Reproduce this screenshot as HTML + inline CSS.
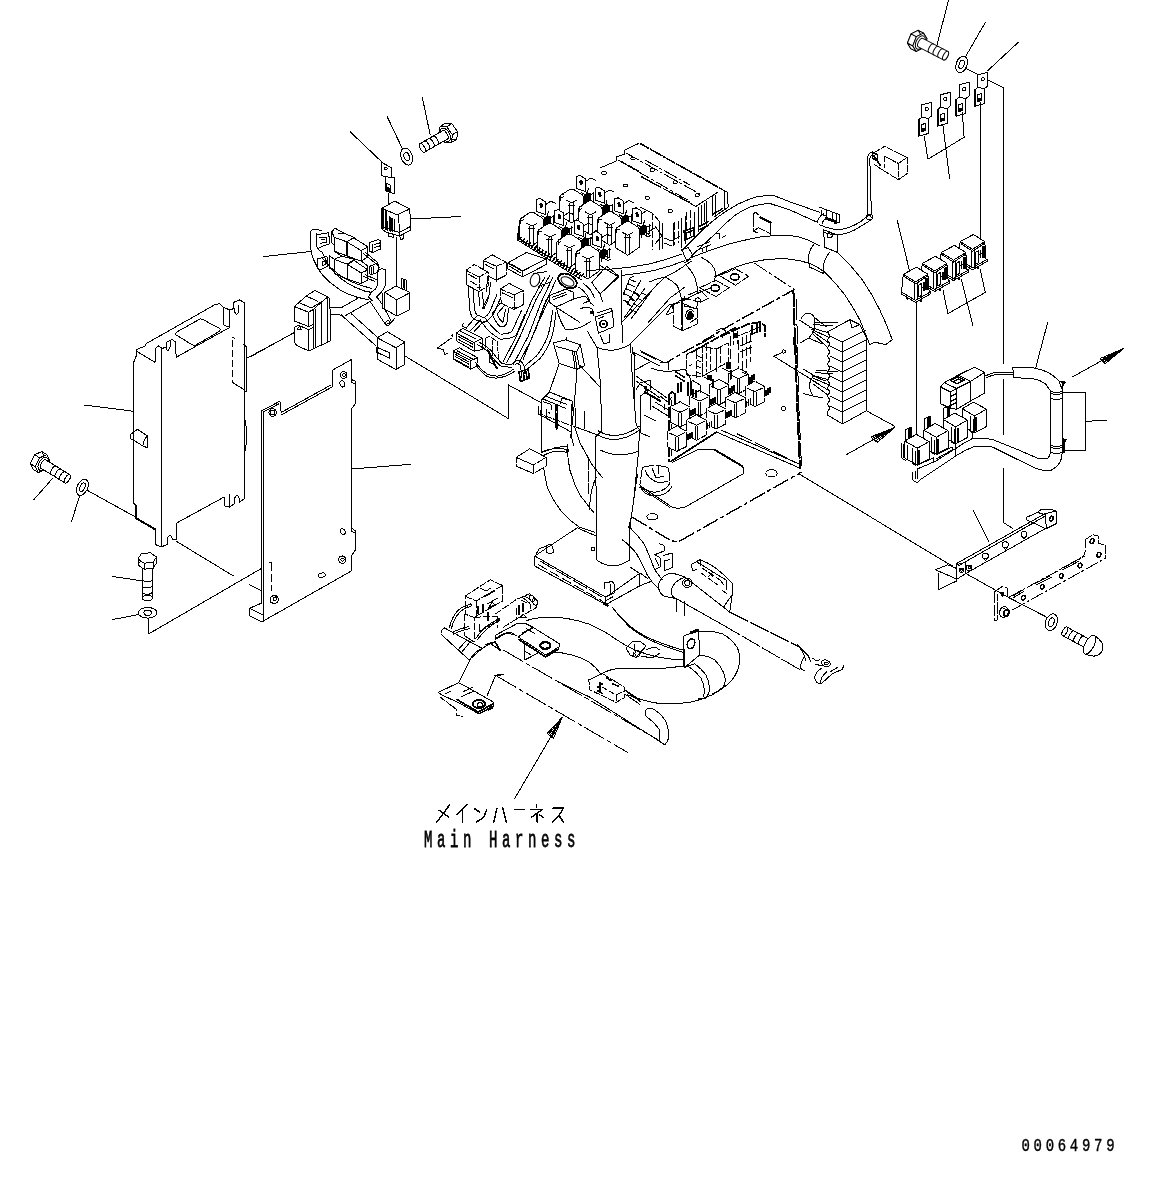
<!DOCTYPE html>
<html><head><meta charset="utf-8"><title>Diagram</title>
<style>
html,body{margin:0;padding:0;background:#fff;}
body{width:1163px;height:1182px;overflow:hidden;font-family:"Liberation Sans",sans-serif;}
svg{display:block;shape-rendering:crispEdges}
.l{fill:none;stroke:#000;stroke-width:1.0;stroke-linecap:round;stroke-linejoin:round}
.w{fill:#fff;stroke:#000;stroke-width:1.0;stroke-linecap:round;stroke-linejoin:round}
.k{fill:#000;stroke:none}
.t{fill:none;stroke:#000;stroke-width:1.5;stroke-linecap:round;stroke-linejoin:round}
</style></head><body>
<svg width="1163" height="1182" viewBox="0 0 1163 1182">
<rect x="0" y="0" width="1163" height="1182" fill="#fff"/>
<defs><filter id="gs" x="-5%" y="-20%" width="110%" height="140%"><feColorMatrix type="saturate" values="0"/></filter></defs>

<g class="l">
<!-- controller box -->
<path d="M133.7 362.3 L133.7 503.3 L136.2 505.8 L136.2 518.3 L155.4 529.5 L155.4 544.5 L161.1 547 L167.4 544.5 L167.4 538.3 Q169.9 532 172.4 539 L176.1 539.5 L176.1 523.3 L224 497.1 L224 505.8 L229.8 507.1 L229.8 494 M234.8 503.3 L234.8 498 Q237 493 239 498 L239.8 502.1 L244.7 498.3 L244.7 302.9 L239.8 299.9 L233.5 302.4 L233.5 308.7 L229.8 309.9 L229.8 327.4 L176.1 357.3 L175.6 342 L172 339.5 L166 342.5 L166 347 Q167.5 354 170 347 L170 341"/>
<path d="M229.8 507.1 L234.8 503.3"/>
<path d="M133.7 362.3 L136.2 356 L136.2 349.8 L144.9 346.1 L146.2 343.6 L212.3 306.2 L214.8 304.4 L219.8 303.7 L223.5 307.4 L223.5 324.9 L229.8 327.4 M223.5 307.4 L229.8 309.9 M234.8 308.5 L234.8 312 Q236.5 317 238.5 312 L238.5 305"/>
<path d="M136.2 351 L155 362.3 L155 348.5 L158.5 346 L162.4 348.5 L166 347 M161.1 348.5 L161.1 547"/>
<path d="M136.2 505.8 L136.2 518.3 L155.4 529.5" stroke-width="2"/>
<!-- label on top -->
<path d="M176.1 332.4 L199.8 319.1 Q201.5 318.5 203.6 319.9 L219.8 328.6 Q220.5 330 219.8 331.1 L196.1 344.9 Q194 345.5 192.3 344.9 L176.1 334.9 Q175.3 333.5 176.1 332.4Z"/>
<!-- side connector dashed -->
<path d="M232.3 337.4 L235 338.5 M232.3 340 L232.3 382.3" stroke-dasharray="7 3"/>
<path d="M232.3 382.3 L244.3 389.8 M243.5 344.9 L246.5 346.5 L246.5 391 L244.7 391"/>
<path d="M244.7 418.5 Q248.5 435 244.7 453.4"/>
<!-- knob -->
<path d="M133.7 432.2 L130 434.7 L130 438.5 L133.7 440.2 L142.9 446 Q143.5 439 147.4 436 L147.4 447.7 L142.9 446 M133.7 432.2 L137.4 429.2 L147.4 436"/>
<!-- leaders -->
<path d="M84.3 405 L133 411.2"/>
<path d="M247.2 358.1 L294.7 332.4"/>
<path d="M87.8 490.6 L136 517.3"/>
<path d="M175.9 541 L233.3 575.9"/>
<path d="M148.5 618.3 L148.5 634 L261.5 568.4"/>
<path d="M249.6 584.6 L261.5 590.9"/>
<path d="M52.4 478.6 L33.7 499.8"/>
<path d="M79.9 494.8 L71.6 521.5"/>
<path d="M112.3 576.4 L142.2 580.9"/>
<path d="M112.3 619.6 L138.5 614.6"/>
<path d="M351.5 469 L410.9 464.3"/>
<!-- mounting plate -->
<path d="M261.2 411.1 L261.2 603.3 L249.5 608.3 L249.5 615.8 L262.4 622 L263.7 620.8 L351.5 570.9 L351.5 555.9 L355.5 549.7 L355.5 531 L352 528.5 L351.5 528.5 L351.5 408.7 L355.5 403.7 L355.5 381.2 L352 379.8 L351.5 359.5 L332.8 370 L332.3 386.9 L281.2 414.9"/>
<path d="M261.2 411.1 L279.9 401.2 L281.2 412.4 M263.7 411.9 L263.7 620.8 M263.7 411.9 L278.5 404 M282 412 L331 385"/>
<path d="M249.5 608.3 L262 614.5"/>
<path d="M351.5 379.8 L351.5 382.5 L355 384 M351.5 528.5 L351.5 531.5 L355 533"/>
<path d="M269 562.1 L272 562.1 M271.2 563 L271.2 590.8" stroke-dasharray="8 3"/>
<!-- plate bolts/holes -->
<circle cx="272.7" cy="412.5" r="3.8"/><path d="M270.5 410 L275 410.5 L274.5 415 L270.5 414.5Z M271 417 L275.5 415.5"/>
<circle cx="343.6" cy="375" r="3.3"/><circle cx="343.8" cy="375" r="1.4"/>
<ellipse cx="342.3" cy="383.9" rx="2.3" ry="3.3" transform="rotate(-25 342.3 383.9)"/>
<ellipse cx="342.8" cy="531.7" rx="2.3" ry="3.1" transform="rotate(-30 342.8 531.7)"/>
<circle cx="342.3" cy="559.6" r="3.6"/><circle cx="342.5" cy="559.6" r="1.6"/><path d="M339.5 557.5 L342 555.8 L345.3 557.5"/>
<ellipse cx="321.8" cy="575.1" rx="3.6" ry="2.1" transform="rotate(-12 321.8 575.1)"/>
<circle cx="274.4" cy="599.4" r="4"/><circle cx="274.8" cy="599" r="1.7"/><path d="M271 597 L274 595.6 L277.5 597.5 M270.8 602.5 L275 603.8"/>
</g>

<g transform="translate(37.5 460.5) rotate(31.4)" class="w"><path d="M5.6 3.4 L1.0 9.8 L-4.6 6.4 L-5.6 -3.4 L-1.0 -9.8 L4.6 -6.4Z"/><path d="M5.6 3.4 L1.0 9.8 L7.0 9.8 L11.6 3.4 Z"/><path d="M1.0 9.8 L-4.6 6.4 L1.4 6.4 L7.0 9.8 Z"/><path d="M-4.6 6.4 L-5.6 -3.4 L0.4 -3.4 L1.4 6.4 Z"/><path d="M-5.6 -3.4 L-1.0 -9.8 L5.0 -9.8 L0.4 -3.4 Z"/><path d="M-1.0 -9.8 L4.6 -6.4 L10.6 -6.4 L5.0 -9.8 Z"/><path d="M4.6 -6.4 L5.6 3.4 L11.6 3.4 L10.6 -6.4 Z"/><path d="M11.6 3.4 L7.0 9.8 L1.4 6.4 L0.4 -3.4 L5.0 -9.8 L10.6 -6.4Z"/><ellipse cx="6.6" cy="0" rx="4.3" ry="7.2"/><path d="M6.8 -4.8 L35.0 -4.8 A2.2 4.8 0 0 1 35.0 4.8 L6.8 4.8 A2.2 4.8 0 0 1 6.8 -4.8 Z"/><ellipse cx="35.0" cy="0" rx="2.2" ry="4.8"/><path d="M29.6 -4.8 A2.2 4.8 0 0 0 29.6 4.8" fill="none"/><path d="M24.3 -4.8 A2.2 4.8 0 0 0 24.3 4.8" fill="none"/><path d="M18.9 -4.8 A2.2 4.8 0 0 0 18.9 4.8" fill="none"/></g><g transform="translate(82.4 487.3) rotate(25.0)" class="w"><ellipse cx="0" cy="0" rx="5.2" ry="8.6"/><ellipse cx="0" cy="0" rx="2.4" ry="4.6"/></g><g transform="translate(147.2 558.0) rotate(90.0)" class="w"><path d="M5.0 -5.0 L40.0 -5.0 A2.5 5.0 0 0 1 40.0 5.0 L5.0 5.0 Z"/><ellipse cx="40.0" cy="0" rx="2.5" ry="5.0"/><path d="M33.7 -5.0 A2.5 5.0 0 0 1 33.7 5.0" fill="none"/><path d="M27.4 -5.0 A2.5 5.0 0 0 1 27.4 5.0" fill="none"/><path d="M21.1 -5.0 A2.5 5.0 0 0 1 21.1 5.0" fill="none"/><path d="M11.2 3.2 L7.0 9.2 L1.7 6.0 L0.8 -3.2 L5.0 -9.2 L10.3 -6.0Z"/><path d="M5.2 3.2 L1.0 9.2 L7.0 9.2 L11.2 3.2 Z"/><path d="M1.0 9.2 L-4.3 6.0 L1.7 6.0 L7.0 9.2 Z"/><path d="M-4.3 6.0 L-5.2 -3.2 L0.8 -3.2 L1.7 6.0 Z"/><path d="M-5.2 -3.2 L-1.0 -9.2 L5.0 -9.2 L0.8 -3.2 Z"/><path d="M-1.0 -9.2 L4.3 -6.0 L10.3 -6.0 L5.0 -9.2 Z"/><path d="M4.3 -6.0 L5.2 3.2 L11.2 3.2 L10.3 -6.0 Z"/><path d="M5.2 3.2 L1.0 9.2 L-4.3 6.0 L-5.2 -3.2 L-1.0 -9.2 L4.3 -6.0Z"/></g><g transform="translate(147.7 612.8) rotate(0.0)" class="w"><ellipse cx="0" cy="0" rx="9.3" ry="5.3"/><ellipse cx="0" cy="0" rx="3.8" ry="2.6"/></g>
<g transform="translate(451.0 131.5) rotate(150.3)" class="w"><path d="M5.6 3.4 L1.0 9.8 L-4.6 6.4 L-5.6 -3.4 L-1.0 -9.8 L4.6 -6.4Z"/><path d="M5.6 3.4 L1.0 9.8 L7.0 9.8 L11.6 3.4 Z"/><path d="M1.0 9.8 L-4.6 6.4 L1.4 6.4 L7.0 9.8 Z"/><path d="M-4.6 6.4 L-5.6 -3.4 L0.4 -3.4 L1.4 6.4 Z"/><path d="M-5.6 -3.4 L-1.0 -9.8 L5.0 -9.8 L0.4 -3.4 Z"/><path d="M-1.0 -9.8 L4.6 -6.4 L10.6 -6.4 L5.0 -9.8 Z"/><path d="M4.6 -6.4 L5.6 3.4 L11.6 3.4 L10.6 -6.4 Z"/><path d="M11.6 3.4 L7.0 9.8 L1.4 6.4 L0.4 -3.4 L5.0 -9.8 L10.6 -6.4Z"/><ellipse cx="6.6" cy="0" rx="4.3" ry="7.2"/><path d="M6.8 -4.8 L33.0 -4.8 A2.2 4.8 0 0 1 33.0 4.8 L6.8 4.8 A2.2 4.8 0 0 1 6.8 -4.8 Z"/><ellipse cx="33.0" cy="0" rx="2.2" ry="4.8"/><path d="M28.0 -4.8 A2.2 4.8 0 0 0 28.0 4.8" fill="none"/><path d="M23.0 -4.8 A2.2 4.8 0 0 0 23.0 4.8" fill="none"/><path d="M18.0 -4.8 A2.2 4.8 0 0 0 18.0 4.8" fill="none"/></g><g transform="translate(406.7 156.6) rotate(-20.0)" class="w"><ellipse cx="0" cy="0" rx="5.6" ry="8.8"/><ellipse cx="0" cy="0" rx="2.6" ry="4.2"/></g>
<g class="l">
<!-- leaders -->
<path d="M422.2 97 L430.2 134.9"/>
<path d="M387.3 116.9 L402.7 149.4"/>
<path d="M350.3 131.9 L382.3 162.4"/>
<path d="M411 219 L460.9 216.5"/>
<path d="M264 256.5 L310.6 251.5"/>
<path d="M294.9 332.1 L250 357"/>
<path d="M404.7 355.8 L508.3 418.6 L508.3 384.9 L541.2 402.7"/>
<path d="M388.5 193.6 L388.5 204.8 M396 237.2 L396 287.1"/>
<!-- tag bracket -->
<path d="M381.5 162.4 L391 167.4 L391 177.3 L394.2 177.8 L394.2 193.6 L386 191.1 L385.5 176.8 L381.5 175.3Z M385.5 176.8 L391 177.3"/>
<circle cx="385.7" cy="168.6" r="1.4"/>
<path d="M386.5 183.6 L390 184.6 L390 191.6 L386.5 190.6Z"/>
<path d="M387 187 L389.6 187.8 L389.6 191 L387 190.2Z" class="k"/>
<!-- relay 1 -->
<path d="M381.5 208.5 L381.5 228.5 L386 232.2 L399.7 236 L411 229.7 L409.7 209 L394.7 201Z M398.5 214.8 L399.7 234.7 M382.3 208.5 L397.2 214.8 L409.7 209"/>
<path d="M381.5 226 L399 232.5 L410.5 226.5"/>
<path d="M383.3 210 L383.3 228 M385.6 211 L385.6 229.5" stroke-width="2"/>
<path d="M389 216 L389 230 M392 218 L392 231.5 M394.5 219 L394.5 232" />
<path d="M390.5 218 L390.5 231" stroke-width="2.2"/><path d="M387.5 222 L387.5 230" stroke-width="1.6"/>
<path d="M388.5 232.5 L388.5 236 L393.5 237.3 L393.5 234.3 M399.7 236 L401 239.7 L403.5 238.5 L403.5 234.3"/>
<!-- relay 2 -->
<path d="M384.8 292.3 L396 286.1 L409.7 292.3 L409.7 309.8 L396.6 316 L384.8 309.1Z M396.6 299.8 L396.6 316 M384.8 292.3 L396.6 299.8 L409.7 292.8"/>
<path d="M382.3 293.5 L382.3 307.9 L384.8 309.1" stroke-width="1.6"/>
<path d="M401 288.4 L401 278.4 L406 279.7 L406.7 290.9 M403 279.5 L403 287.5 L404.8 288.3 L404.8 280"/>
<path d="M369.8 301 L384.8 323.5 Q386.5 326 388.5 325.3 L394.7 318.5 M377.3 297.3 L382.3 304.7 M384.8 309.1 L391 321"/>
<ellipse cx="387.6" cy="322.4" rx="2.2" ry="1.4" transform="rotate(-30 387.6 322.4)"/>
<!-- relay cluster bracket -->
<path d="M321.2 230.6 L314.9 229 Q311.3 229.2 310.6 232.5 L310.6 247.4 Q311.5 256 314.9 262.4 Q318 269.5 322.4 274.9 Q330 283.5 339.9 289.8 Q348 294.5 357.3 297.3 L368.6 299.8"/>
<path d="M316.8 233.7 L316.8 246.2 Q318 250 322.4 252.4 Q326 261.5 331.1 268.6 Q338 277 346.1 282.3 Q355 288 364.8 291.1 L371 292.3 Q376.5 289.5 377.3 284.8 L377.9 273.6"/>
<path d="M377.9 269.9 L377.9 284.8 M385.4 269.9 L385.4 284.8 Q383 292 376 297.3 M377.9 269.9 L382.3 268.6 L385.4 269.9 M371 292.9 L368.5 297 L372 300.5"/>
<path d="M322 258 Q330 268 340 275.5 Q350 282 361 285.5 L372 288.5"/>
<!-- cubes -->
<path d="M331.8 231.8 L334.9 228.1 L344.9 233.7 L354.2 237.4 L346.7 241.8 L334.3 237.4Z M334.3 237.4 L334.3 251.2 L347.4 256.1 L346.7 241.8 M339 233.5 L344.9 233.7"/>
<path d="M346.7 241.8 L354.2 238.1 L367.9 246.8 L361.1 250.5Z M361.1 250.5 L361.1 261.1 L347.4 256.1 M367.9 246.8 L367.9 256.8 L361.1 261.1"/>
<path d="M334.3 259.3 L341.7 256.1 L354.2 259.3 L347.4 264.3Z M334.3 259.9 L334.3 273.6 L347.4 279.2 L347.4 264.3 M329.5 256 L334.3 259.3 M329.5 256 L329.5 268 L334.3 271"/>
<path d="M347.4 264.3 L354.2 260.5 L367.9 269.9 L361.1 273Z M361.1 273 L361.1 283.6 L347.4 279.2 M367.9 269.9 L367.9 279.8 L361.1 283.6"/>
<path d="M346.7 242 L347.4 256.1 M347.4 264.3 L347.4 279.2" stroke-width="1.7"/>
<path d="M331.8 231.8 L331.8 243 L334.3 245 M334.3 251.2 L341.7 256.1 M347.4 256.1 L354.2 259.3 M361.1 261.1 L367.9 266 L367.9 269.9"/>
<!-- left clips -->
<path d="M317.5 234.5 L328.5 232.8 L330 243.5 L319.5 247.5 M319 238 L326 237 L326.5 242 L320 243.5 M321 240 L325 239.5"/>
<path d="M317.5 259 L327 256.5 L327.5 266.5 L320 270 L317.5 268Z M322 261.5 L325.5 261 L325.5 264.5 L322 265.5Z"/>
<!-- right clips -->
<path d="M369.5 242.5 L378.5 239.5 L380.5 241 L380.5 249 L372.5 252.5 L369.5 251Z M372 243.5 L372 251.5 M374.5 244.5 L379.5 243 M374.5 247.5 L379.5 246"/>
<path d="M363.5 253.5 L375 263 M365.5 252.5 L377.5 262.5 L379.5 268 M369.5 266.5 L376 263.5 L378 265.5 L378 272 L371 275 L369.5 273.5Z"/>
<path d="M371.5 267.5 L371.5 274 M373.5 266.5 L373.5 273.5" stroke-width="1.6"/>
<path d="M363.5 276.5 L375 281.5 M365 274.5 L377 280" />
<!-- big connector -->
<path d="M294.4 306.6 L306.2 296 L314.9 290.4 L326.2 296 Q329.9 298 329.9 301 L330.5 340.9 L308.7 350.9 L297.5 345.9 Q294.4 344 294.4 339.7 L294.4 327.2 L298.7 325.3 L308.7 329.7 L313.1 327.2"/>
<path d="M294.4 306.6 L294.4 321 L308.7 326.6 L313.1 324.7 L313.1 309.8 L308.7 312.3 L294.4 306.6 M308.7 312.3 L308.7 326.6 M308.7 329.7 L308.7 350.9"/>
<path d="M313.1 309.8 L313.1 348.4 M315 308.5 L315 347.8 M321.2 302.3 L321.2 344.7 M327.4 297.3 L327.4 342.2"/>
<path d="M306.2 296 L318 301.5 M299 302.5 L311 308 L321.2 302 M313.1 309.8 L321.2 302.3 L327.4 297.3 M308.7 312.3 L313 309"/>
<path d="M297.5 329 L299.5 326 L301.5 330Z"/>
<!-- cables -->
<path d="M330.5 307.3 L341.1 307.9 L357.3 298.5 M330.5 314.8 L339.9 314.8 L343.6 317.2 M344.9 316 L369.8 301.7 M341.1 314.8 L376 345.9 M351.1 313.5 L377.3 337.2"/>
<!-- small block -->
<path d="M377.3 337.8 L387.3 331.6 L404.7 342.2 L404.7 364.5 L396 369.5 L377.8 359.5Z M396 347.8 L396 369.5 M377.3 337.8 L396 347.8 L404.7 342.2"/>
<path d="M376.7 347.2 L389.8 352.8 L389.8 358.4 L376.7 352.2Z"/>
</g>

<path class="w" d="M576.6 176.4 L580.1 175.4 L585.6 178.9 L585.6 191.4 L576.6 188.4 Z"/><ellipse class="k" cx="581.1" cy="182.4" rx="1.7" ry="2.6" transform="rotate(-15 581.1 182.4)"/><path class="l" d="M585.6 181.4 L590.6 178.2 L595.6 180.2"/><path class="k" d="M583.8 195.5 l3 -3.5 l3.2 1 l0.8 5 l-2.5 4.5 l-3.5 0.5 l-2 -3 Z"/><path class="l" d="M585.3 194.5 l-4 -2 M584.3 197.0 l-4.5 0.5 M584.8 198.5 l-3.5 3 M587.3 192.5 l1 -4 M586.3 200.5 l-1 4.5 M589.3 199.5 l3.5 2.5 M590.3 194.5 l4 -1.5"/><path class="l" d="M590.8 193.5 l0 9 M593.3 192.5 l0 9 M589.3 203.0 l3 1.5 l2 -1.5"/><path class="w" d="M595.3 188.2 L598.8 187.2 L604.3 190.7 L604.3 203.2 L595.3 200.2 Z"/><ellipse class="k" cx="599.8" cy="194.2" rx="1.7" ry="2.6" transform="rotate(-15 599.8 194.2)"/><path class="l" d="M604.3 193.2 L609.3 190.0 L614.3 192.0"/><path class="k" d="M602.5 207.3 l3 -3.5 l3.2 1 l0.8 5 l-2.5 4.5 l-3.5 0.5 l-2 -3 Z"/><path class="l" d="M604.0 206.3 l-4 -2 M603.0 208.8 l-4.5 0.5 M603.5 210.3 l-3.5 3 M606.0 204.3 l1 -4 M605.0 212.3 l-1 4.5 M608.0 211.3 l3.5 2.5 M609.0 206.3 l4 -1.5"/><path class="l" d="M609.5 205.3 l0 9 M612.0 204.3 l0 9 M608.0 214.8 l3 1.5 l2 -1.5"/><path class="w" d="M614.7 198.8 L618.2 197.8 L623.7 201.3 L623.7 213.8 L614.7 210.8 Z"/><ellipse class="k" cx="619.2" cy="204.8" rx="1.7" ry="2.6" transform="rotate(-15 619.2 204.8)"/><path class="l" d="M623.7 203.8 L628.7 200.6 L633.7 202.6"/><path class="k" d="M621.9 217.9 l3 -3.5 l3.2 1 l0.8 5 l-2.5 4.5 l-3.5 0.5 l-2 -3 Z"/><path class="l" d="M623.4 216.9 l-4 -2 M622.4 219.4 l-4.5 0.5 M622.9 220.9 l-3.5 3 M625.4 214.9 l1 -4 M624.4 222.9 l-1 4.5 M627.4 221.9 l3.5 2.5 M628.4 216.9 l4 -1.5"/><path class="l" d="M628.9 215.9 l0 9 M631.4 214.9 l0 9 M627.4 225.4 l3 1.5 l2 -1.5"/><path class="w" d="M632.7 208.8 L636.2 207.8 L641.7 211.3 L641.7 223.8 L632.7 220.8 Z"/><ellipse class="k" cx="637.2" cy="214.8" rx="1.7" ry="2.6" transform="rotate(-15 637.2 214.8)"/><path class="l" d="M641.7 213.8 L646.7 210.6 L651.7 212.6"/><path class="k" d="M639.9 227.9 l3 -3.5 l3.2 1 l0.8 5 l-2.5 4.5 l-3.5 0.5 l-2 -3 Z"/><path class="l" d="M641.4 226.9 l-4 -2 M640.4 229.4 l-4.5 0.5 M640.9 230.9 l-3.5 3 M643.4 224.9 l1 -4 M642.4 232.9 l-1 4.5 M645.4 231.9 l3.5 2.5 M646.4 226.9 l4 -1.5"/><path class="l" d="M646.9 225.9 l0 9 M649.4 224.9 l0 9 M645.4 235.4 l3 1.5 l2 -1.5"/><path class="w" d="M559.4 197.4 L559.4 215.4 L571.7 222.9 L583.7 214.4 L583.7 197.4 L582.2 194.9 L573.2 189.1 L570.2 189.1 L561.2 194.9 Z"/><path class="l" d="M566.7 200.2 L571.7 202.9 L576.9 200.2 M569.8 203.2 L569.8 220.9 M573.6 203.2 L573.6 220.9 M568.7 205.2 L574.7 205.2"/><path class="l" d="M560.7 200.2 l0 -5.2 l3.3 -1.2 M560.7 197.8 l2.6 -0.9"/><path class="w" d="M578.1 209.2 L578.1 227.2 L590.4 234.7 L602.4 226.2 L602.4 209.2 L600.9 206.7 L591.9 200.9 L588.9 200.9 L579.9 206.7 Z"/><path class="l" d="M585.4 212.0 L590.4 214.7 L595.6 212.0 M588.5 215.0 L588.5 232.7 M592.3 215.0 L592.3 232.7 M587.4 217.0 L593.4 217.0"/><path class="l" d="M579.4 212.0 l0 -5.2 l3.3 -1.2 M579.4 209.6 l2.6 -0.9"/><path class="w" d="M597.5 219.8 L597.5 237.8 L609.8 245.3 L621.8 236.8 L621.8 219.8 L620.3 217.3 L611.3 211.5 L608.3 211.5 L599.3 217.3 Z"/><path class="l" d="M604.8 222.6 L609.8 225.3 L615.0 222.6 M607.9 225.6 L607.9 243.3 M611.7 225.6 L611.7 243.3 M606.8 227.6 L612.8 227.6"/><path class="l" d="M598.8 222.6 l0 -5.2 l3.3 -1.2 M598.8 220.2 l2.6 -0.9"/><path class="w" d="M615.5 229.8 L615.5 247.8 L627.8 255.3 L639.8 246.8 L639.8 229.8 L638.3 227.3 L629.3 221.5 L626.3 221.5 L617.3 227.3 Z"/><path class="l" d="M622.8 232.6 L627.8 235.3 L633.0 232.6 M625.9 235.6 L625.9 253.3 M629.7 235.6 L629.7 253.3 M624.8 237.6 L630.8 237.6"/><path class="l" d="M616.8 232.6 l0 -5.2 l3.3 -1.2 M616.8 230.2 l2.6 -0.9"/><path class="w" d="M536.7 199.5 L540.2 198.5 L545.7 202.0 L545.7 214.5 L536.7 211.5 Z"/><ellipse class="k" cx="541.2" cy="205.5" rx="1.7" ry="2.6" transform="rotate(-15 541.2 205.5)"/><path class="l" d="M545.7 204.5 L550.7 201.3 L555.7 203.3"/><path class="k" d="M543.9 218.6 l3 -3.5 l3.2 1 l0.8 5 l-2.5 4.5 l-3.5 0.5 l-2 -3 Z"/><path class="l" d="M545.4 217.6 l-4 -2 M544.4 220.1 l-4.5 0.5 M544.9 221.6 l-3.5 3 M547.4 215.6 l1 -4 M546.4 223.6 l-1 4.5 M549.4 222.6 l3.5 2.5 M550.4 217.6 l4 -1.5"/><path class="l" d="M550.9 216.6 l0 9 M553.4 215.6 l0 9 M549.4 226.1 l3 1.5 l2 -1.5"/><path class="w" d="M554.8 210.7 L558.3 209.7 L563.8 213.2 L563.8 225.7 L554.8 222.7 Z"/><ellipse class="k" cx="559.3" cy="216.7" rx="1.7" ry="2.6" transform="rotate(-15 559.3 216.7)"/><path class="l" d="M563.8 215.7 L568.8 212.5 L573.8 214.5"/><path class="k" d="M562.0 229.8 l3 -3.5 l3.2 1 l0.8 5 l-2.5 4.5 l-3.5 0.5 l-2 -3 Z"/><path class="l" d="M563.5 228.8 l-4 -2 M562.5 231.3 l-4.5 0.5 M563.0 232.8 l-3.5 3 M565.5 226.8 l1 -4 M564.5 234.8 l-1 4.5 M567.5 233.8 l3.5 2.5 M568.5 228.8 l4 -1.5"/><path class="l" d="M569.0 227.8 l0 9 M571.5 226.8 l0 9 M567.5 237.3 l3 1.5 l2 -1.5"/><path class="w" d="M574.1 221.3 L577.6 220.3 L583.1 223.8 L583.1 236.3 L574.1 233.3 Z"/><ellipse class="k" cx="578.6" cy="227.3" rx="1.7" ry="2.6" transform="rotate(-15 578.6 227.3)"/><path class="l" d="M583.1 226.3 L588.1 223.1 L593.1 225.1"/><path class="k" d="M581.3 240.4 l3 -3.5 l3.2 1 l0.8 5 l-2.5 4.5 l-3.5 0.5 l-2 -3 Z"/><path class="l" d="M582.8 239.4 l-4 -2 M581.8 241.9 l-4.5 0.5 M582.3 243.4 l-3.5 3 M584.8 237.4 l1 -4 M583.8 245.4 l-1 4.5 M586.8 244.4 l3.5 2.5 M587.8 239.4 l4 -1.5"/><path class="l" d="M588.3 238.4 l0 9 M590.8 237.4 l0 9 M586.8 247.9 l3 1.5 l2 -1.5"/><path class="w" d="M592.8 232.5 L596.3 231.5 L601.8 235.0 L601.8 247.5 L592.8 244.5 Z"/><ellipse class="k" cx="597.3" cy="238.5" rx="1.7" ry="2.6" transform="rotate(-15 597.3 238.5)"/><path class="l" d="M601.8 237.5 L606.8 234.3 L611.8 236.3"/><path class="k" d="M600.0 251.6 l3 -3.5 l3.2 1 l0.8 5 l-2.5 4.5 l-3.5 0.5 l-2 -3 Z"/><path class="l" d="M601.5 250.6 l-4 -2 M600.5 253.1 l-4.5 0.5 M601.0 254.6 l-3.5 3 M603.5 248.6 l1 -4 M602.5 256.6 l-1 4.5 M605.5 255.6 l3.5 2.5 M606.5 250.6 l4 -1.5"/><path class="l" d="M607.0 249.6 l0 9 M609.5 248.6 l0 9 M605.5 259.1 l3 1.5 l2 -1.5"/><path d="M518.5 238 L580.5 276" stroke="#000" stroke-width="5.5" stroke-dasharray="1.6 1.5" fill="none"/><path class="l" d="M517.5 233 L517.5 240 L581 279.5"/><path class="w" d="M519.5 220.5 L519.5 238.5 L531.8 246.0 L543.8 237.5 L543.8 220.5 L542.3 218.0 L533.3 212.2 L530.3 212.2 L521.3 218.0 Z"/><path class="l" d="M526.8 223.3 L531.8 226.0 L537.0 223.3 M529.9 226.3 L529.9 244.0 M533.7 226.3 L533.7 244.0 M528.8 228.3 L534.8 228.3"/><path class="l" d="M520.8 223.3 l0 -5.2 l3.3 -1.2 M520.8 220.9 l2.6 -0.9"/><path class="w" d="M537.6 231.7 L537.6 249.7 L549.9 257.2 L561.9 248.7 L561.9 231.7 L560.4 229.2 L551.4 223.4 L548.4 223.4 L539.4 229.2 Z"/><path class="l" d="M544.9 234.5 L549.9 237.2 L555.1 234.5 M548.0 237.5 L548.0 255.2 M551.8 237.5 L551.8 255.2 M546.9 239.5 L552.9 239.5"/><path class="l" d="M538.9 234.5 l0 -5.2 l3.3 -1.2 M538.9 232.1 l2.6 -0.9"/><path class="w" d="M556.9 242.3 L556.9 260.3 L569.2 267.8 L581.2 259.3 L581.2 242.3 L579.7 239.8 L570.7 234.0 L567.7 234.0 L558.7 239.8 Z"/><path class="l" d="M564.2 245.1 L569.2 247.8 L574.4 245.1 M567.3 248.1 L567.3 265.8 M571.1 248.1 L571.1 265.8 M566.2 250.1 L572.2 250.1"/><path class="l" d="M558.2 245.1 l0 -5.2 l3.3 -1.2 M558.2 242.7 l2.6 -0.9"/><path class="w" d="M575.6 253.5 L575.6 271.5 L587.9 279.0 L599.9 270.5 L599.9 253.5 L598.4 251.0 L589.4 245.2 L586.4 245.2 L577.4 251.0 Z"/><path class="l" d="M582.9 256.3 L587.9 259.0 L593.1 256.3 M586.0 259.3 L586.0 277.0 M589.8 259.3 L589.8 277.0 M584.9 261.3 L590.9 261.3"/><path class="l" d="M576.9 256.3 l0 -5.2 l3.3 -1.2 M576.9 253.9 l2.6 -0.9"/><path d="M520 238 L583 275.5" stroke="#000" stroke-width="4" stroke-dasharray="1.4 2.2" fill="none"/><path class="l" d="M518.5 226 L518.5 241"/>
<g class="l">
<!-- connector cubes (left of relay block) -->
<path d="M466 270.3 L474.2 264.6 L488.1 272 L488.1 285.8 L479.1 291.6 L466.9 285Z M479.1 276.9 L479.1 291.6 M466 270.3 L479.1 276.9 L488.1 272" stroke-dasharray="6 1.2"/>
<path d="M483.2 260.5 L492.2 254.8 L506.1 262.2 L506.1 275.2 L496.3 280.1 L488.1 276 M496.3 266.2 L496.3 280.1 M483.2 260.5 L496.3 266.2 L506.1 262.2 M483.2 260.5 L483.2 269" stroke-dasharray="6 1.2"/>
<path d="M500.3 289.1 L509.3 283.4 L523.2 290.7 L523.2 304.6 L514.2 309.5 L501.2 303Z M514.2 294.8 L514.2 309.5 M500.3 289.1 L514.2 294.8 L523.2 290.7" stroke-dasharray="6 1.2"/>
<path d="M507.7 263 L526.5 252.4 L546.1 258.9 L546.1 264.6 L522.4 276.9 L507.7 268.7Z M522.4 271.1 L522.4 276.9 M507.7 263 L522.4 271.1 L546.1 258.9"/>
<path d="M477 287 L481 287 M479.1 285 L479.1 289.5 M494.5 279 L498.5 279 M496.3 277 L496.3 281.5 M512 307 L516.5 307 M514.2 305 L514.2 309.5"/>
<!-- cylinder cap -->
<ellipse cx="535" cy="280" rx="4.6" ry="6.8" transform="rotate(15 535 280)"/>
<path d="M533.5 273.5 L547 271.5 M538 286.5 L549.5 282.5 M540 277 Q538.5 282 541.5 286"/>
<!-- U cables under connectors -->
<path d="M473.4 289.9 L474.2 307.1 Q475 313.5 477.5 315.2 L484 317.7 Q487.5 316 490.5 310.3 L497.1 294"/>
<path d="M482.4 292.5 L484 308.7 L489 297 M490.6 282.5 L489 295 L482.4 308.7"/>
<path d="M500.3 303 L492.2 313.6 Q495 322 500.3 326.7 Q504.5 327.5 506.9 323.4 L508.5 308.7"/>
<path d="M485.6 318.5 Q493 329 500.3 334 Q507 334.5 511.8 331.6 L521.6 310.3"/>
<path d="M477.5 315.2 L466 328 M484 321 L474.2 331.5"/>
<!-- long cables to clamp -->
<path d="M549.4 276 L536.3 298.9 L520 336.5 L506.9 362.6"/>
<path d="M552.6 277.7 L541.2 302.2 L528.1 336.5 L513.4 364.3"/>
<path d="M549.4 298.9 L536.3 326.7 L523.2 359.4"/>
<path d="M552.6 310.3 Q551 325 547.7 336.5 Q543 348 536.3 356.1 L524.9 365.9"/>
<path d="M546 300 Q540 315 535.5 331"/>
<!-- clamp -->
<path d="M511.8 364.3 Q516 358.5 521.6 361.8 L524 366 L524.5 374 M515 364.5 Q518.5 362.5 520.8 366 L521.5 378"/>
<path d="M519 372 L528 369 L529.5 378 L520.5 381.5Z M523.5 372.5 L524 379.5 M526 371.5 L527 378" stroke-width="1.7"/>
<!-- lower-left connector pair -->
<path d="M456.2 333.2 L462.8 328.3 L482.4 338.1 L482.4 349.6 L474.2 351.2 L457.1 341.4Z M456.2 333.2 L474.2 342.5 L482.4 338.1 M474.2 342.5 L474.2 351.2"/>
<path d="M453 351.2 L459.5 347.9 L477.5 357.7 L476.7 365.9 L470.9 369.2 L453.8 359.4Z M453 351.2 L470.9 360.5 L477.5 357.7 M470.9 360.5 L470.9 369.2"/>
<path d="M460 331 L476 339 M457.5 351 L472.5 359 M455.5 354.5 L469 362"/>
<path d="M437.5 348 L451.3 338.1 M437.5 348 L443.2 349.6 L444.8 354.5 L448.1 352.8 M462 326 L466.9 328.3 M462 326 L463.5 323.5"/>
<path d="M450.5 335.5 L453.5 333.5 L453 338Z" class="k"/>
<path d="M477.5 344.7 Q484 347.5 488.9 352.8 Q495 361 500.3 365.9 L511.8 367.5"/>
<path d="M479.5 342.5 Q486 345.5 491 350.5 Q497 358.5 502 363.5 L512 365"/>
<path d="M475.8 362.6 Q481 370 487.3 374.1 Q494 377 500.3 375.7 Q508 373.5 513.4 369.2"/>
<path d="M476 365 Q481 372.5 487.3 376.5 Q494 379 501 377.5 Q509 375.5 515 371"/>
<path d="M485.6 338.1 L489 336.5 L497.1 341 L498.7 359.4 M485.6 338.1 L485.6 348 M489 351 L489 362 L493.8 364.5 M492.2 340 L492.2 356" stroke-dasharray="5 1.5"/>
<path d="M487.5 350 L490.5 355 M490 356.5 L494 362 M493.5 363 L497 368" stroke-width="2"/>
<!-- big ring & plug -->
<ellipse cx="567.5" cy="281" rx="10" ry="6.5" transform="rotate(28 567.5 281)" stroke-width="1.8"/>
<ellipse cx="567.5" cy="281.5" rx="7" ry="4" transform="rotate(28 567.5 281.5)"/>
<path d="M549.4 295.6 L565.7 289.1 L573.9 292.4 L573.9 298.9 L555.9 307.1 L549.4 302.2Z M552.6 297.3 L565.7 292.4 M553.5 299.5 L566.5 294.5"/>
<path d="M556 307 Q560 322 565.7 329.9 Q574 330 582 326.7 L590.2 321.8"/>
<path d="M555.9 307.1 L580 322.5 M573.9 298.9 L585 296 L592 304"/>
<!-- tape flag -->
<path d="M591.8 282.6 L606.5 266.2 L618.8 276 L600 294Z"/>
<path d="M583 283.5 Q591 288 594.5 298 M579 287.5 Q588 293 590.5 303.5 M600 294 L602.5 302"/>
<!-- branch sheath -->
<path d="M553.4 343 L565.7 339.8 L580.4 344.7 L584.5 365.9 L577.1 369.2 L559.2 363.4Z M556.5 346.5 L576.5 352 L580.4 344.7 M576.5 352 L579.5 368"/>
<path d="M559.2 363.4 L549.4 392 L541.2 400.2 M577.1 369.2 L573.9 408.4 L570.6 437.8 M566 337 L567 341"/>
<path d="M574.5 352.5 L577 368 M572.5 352 L575 367.5"/>
<!-- connector below branch -->
<path d="M541.2 400.2 L549.4 392 L572 401 L572 411 M538.5 406 L538.5 414 L572 432.5 M541.2 400.2 L541.2 437 M549.4 392 L565 398"/>
<path d="M545 396 L567 404.5 M543 399 L566 408.5 M555.5 404 L555.5 428 M557 404.5 L557 429" />
<path d="M547 412 L546 418 M548 412 L549.5 413" />
<!-- bolt bracket -->
<path d="M595.1 316.9 L612.3 311.2 L613.9 326.7 L598.4 333.2Z"/>
<circle cx="603.5" cy="324" r="3.6" stroke-width="1.6"/><circle cx="603.8" cy="324" r="1.5" class="k"/>
<path d="M597 313 L611 308.5 L612.3 311.2 M598.5 318.5 L604 316.5 M600 335 L604 344 L610 342 L609 334" />
<path d="M580 309 Q588 305 592.5 309.5 L594 316 M583 303.5 L589 301 L593.5 305.5"/>
<circle cx="592" cy="312.5" r="2" class="k"/>
<!-- arcs right of trunk top -->

<path d="M580.4 365.9 L600 387.1"/>
</g>

<g class="l">
<!-- second edges of U-cables for tube look -->
<path d="M468.5 287 L469.5 308 Q470.5 316 474 319.5 L483.5 322.5 Q490 320 494 313 L501 297"/>
<path d="M487.5 277 L486.5 292 M478.5 292.5 L480 306"/>
<path d="M505 305 L497 314 Q499.5 320 503 322.5 L505.5 310"/>
<path d="M481.5 322 Q490 334 500 339 Q510 339.500 516 335.5 L525 314"/>
<path d="M470 331 L480.500 320"/>
<path d="M545 277 L532 300 L516 337 L503.500 361"/>
<path d="M556 280 L545 304 L532 338 L518 365"/>
<path d="M556 312 Q554.500 327 551.500 338 Q547 350 540 358.500 L528 368.500"/>
<!-- connector internal lines -->
<path d="M468 274 L477 279 M470 281 L476 284.500 M485.500 264.500 L494 269 M502.500 293 L512 297.500 M510 266.500 L521 273 M512 264.500 L523 271"/>
<path d="M458.500 336.500 L472.500 344 M458.500 339.500 L472.500 347 M455.500 356.500 L468.500 364 M455.500 359.500 L468.500 367"/>
</g>

<g class="l">
<!-- rail plate -->
<path d="M640.8 143.9 L720.9 188.8" stroke-width="1.6" stroke-dasharray="9 2 2 2"/>
<path d="M639.2 143.1 L624.5 150.4 L624.5 154 L616.3 157 L616.3 161 L600 168"/>
<path d="M626 153 L700 194 M618 160 L690 201.5 M645 160 L690 185 M644 178 L697 207" stroke-dasharray="14 3 2 3"/>
<path d="M622 162 L640 172 M642 177 L660 187" stroke-width="1.5" stroke-dasharray="5 2"/>
<path d="M672 193 L690 203" stroke-width="1.5" stroke-dasharray="5 2"/>
<path d="M720.9 188.8 L727.4 192.1 L728.2 207 L714 217 M724 190.5 L724 209 M712.5 196 L712.5 216 M715 195 L715 215 M704 203 L704 222 M701 204.5 L701 224 M695 207 L718 192"/>
<path d="M690 210 L690 236 M686 212 L686 240 M674.5 222 L674.5 245 M678 220.5 L678 243" stroke-dasharray="8 2"/>
<ellipse cx="652.3" cy="170" rx="2.2" ry="1.5"/><ellipse cx="675.2" cy="182.3" rx="2.2" ry="1.5"/><ellipse cx="625.3" cy="185.5" rx="2.2" ry="1.5"/><ellipse cx="647.4" cy="197.8" rx="2.2" ry="1.5"/><ellipse cx="697.2" cy="195.3" rx="2.2" ry="1.5"/><ellipse cx="670.2" cy="211" rx="2.2" ry="1.5"/>
<ellipse cx="604" cy="173" rx="2.5" ry="1.8"/><ellipse cx="633" cy="158.5" rx="2.2" ry="1.4"/>
<!-- side relays on the right of plate (third group) -->
<path d="M673 223 L673 246 M681.5 218 L681.5 248 M685 216 L685 244 M694.5 212 L694.5 238 M698 207 L698 232 M706.5 201 L706.5 227" />
<path d="M684 231 L694 227.5 L694 236 L685 240Z M686 233 L692 231" stroke-width="1.5"/>
<path d="M700 226 L708 222 M700 229.5 L708 225.5 M713 214 L722 209" stroke-width="1.5"/>
<path d="M659.5 222 L659.5 250 M662.5 223 L662.5 249 M655 226 L662 236 L655 244" />
<path d="M640 207 L652 213 L660 222 M652 213 L652 250 M648 232 L655 228" stroke-dasharray="7 2"/>
<path d="M664 238 L672 241 L680 236 M664 243 L672 246" />
<!-- harness top cable going right -->
<path d="M681.7 250.9 L704.6 228 Q718 216 730.7 208.4 Q738 203.5 747 200.2 Q754 197 760.1 196.2 L773.2 195.3 L790 201.9 L819.8 212.3"/>
<path d="M691.5 255.8 L714.4 234.6 Q725 223 735.6 214.9 Q743 210 750.3 206.8 Q760 204 769.9 203.5 L790 210 L817.3 222.3"/>
<!-- middle cable -->
<path d="M691.5 257.4 Q710 250 727.4 244.4 Q744 240 760.1 237 Q776 235 790 235.4 Q799 236.5 807.3 239.8 L820 246"/>
<path d="M700 224.8 L725 207.3" stroke="none"/>
<!-- connector on cable (dashed) -->
<path d="M753.6 213.3 L753.6 231.3 L758 233 M770.7 234.6 L770.7 222.3 M753.6 231.3 L758.5 227.5 L770.7 234 M753.6 213.3 L756 212.5 L758 214.5" stroke-dasharray="6 1.5"/>
<path d="M760.5 217.5 L770.5 222.5" stroke-width="2.4" stroke-dasharray="1.5 1.2"/>
<!-- lower cable (arc top of big bundle) -->
<path d="M714.4 277 Q725 271.5 735.6 267.2 Q745 263.5 755.2 261.5 Q764 259.5 773.2 259.1 Q782 258.5 790 259.1 Q801 260.5 809.8 263.5 Q818 267 824.8 272.2 Q836 283 844.7 294.7 Q853 307 859.7 319.6 L869.7 344.6"/>
<!-- cables from lower-left under relay block -->
<path d="M585 270 Q600 270.5 613.1 268.9 Q632 267.5 649 264 Q666 260 681.7 254.2"/>
<path d="M621.2 275.4 Q638 274 653.9 270.5 Q670 266.5 684.9 260.7"/>
<!-- tape on crossing -->
<path d="M681.7 249.3 L688.2 247.6 L693.1 255.8 L686.6 260.7Z M684 263 L690 259.5 M685 265 L691 261.5"/>
<path d="M697 247 L710 241.5 M698 250 L711 244.5 M702 248.5 L702 252 M706 246.5 L706 250.5 M716 234 L719 233 L720 239 M722 237.5 L726 235.5"/>
<!-- sleeves arcs -->
<path d="M701.3 257.4 Q707 260 711.1 264 Q715 268.5 716 273.8 L714.4 280.3"/>
<path d="M686.6 265.6 Q691.5 270.5 694.8 277 Q697.5 285 698 293.4"/>
<path d="M665.3 277 Q672 280.5 676.8 285.2 Q681 292.5 681.7 301.5"/>
<path d="M649 282 Q657 278.5 665.3 277 Q676 272 684.9 265.6"/>
<path d="M621.2 322.8 L649 293.4 Q657 284 665.3 277"/>
<path d="M648 322.8 L670 298 L685 287"/>
<path d="M698 293.4 L710 288 M681.7 301.5 L700 292"/>
<!-- wire tie ladder -->
<path d="M621.2 270.5 L621.2 309.7"/>
<path d="M623 295 L630 278 L634 276 M627.5 304 L640.5 281 M623 300 L628 302 M624.5 294 L630.5 296.5 M626.5 289 L632 291.5 M628.5 284 L634.5 286.5 M630 279.5 L636 282" />
<path d="M624 318 L645 288 M631 319 L652 290.5 M629 309 L636.5 312 M633 303.5 L640 307 M637 298 L644 301.5 M641 292.5 L648 296" />
<path d="M627 302.5 L630 305.5 M630.5 297.5 L634 300.5 M634 292 L638 295" stroke-width="2"/>
<!-- tape flag left (near trunk top) -->
<path d="M600 265.5 L618.8 277 L600 294"/>
<!-- plate tabs with holes -->
<path d="M699.7 287.7 L716 280.3 L729.1 287.7 L716 296.6Z" stroke-dasharray="12 2"/>
<ellipse cx="715.2" cy="288.1" rx="4.2" ry="3.2" stroke-width="1.6"/>
<path d="M719.3 275.4 L735.6 268.9 L748.7 276.2 L735.6 285.2Z" stroke-dasharray="12 2"/>
<ellipse cx="734.8" cy="277" rx="4.2" ry="3.2" stroke-width="1.6"/>
<path d="M688.2 295 L699.7 290.1 L708.6 298.3 L698 303.2" stroke-dasharray="10 2"/>
<ellipse cx="697.7" cy="299.9" rx="2.6" ry="2"/>
<path d="M685 296.5 L682 303 L696 309 L697.5 305"/>
<!-- bracket with dark hole -->
<path d="M681.7 301.5 L681.7 322.8 M672 305 L680 302.5 M672 305 L666 315 L674 312Z M684.5 306 L697 309 L697 318 L690 322.8"/>
<ellipse cx="689.9" cy="314.6" rx="2.4" ry="3.6" class="k" transform="rotate(20 689.9 314.6)"/>
<ellipse cx="689.9" cy="314.6" rx="4" ry="5.2" transform="rotate(20 689.9 314.6)"/>
</g>

<g class="l">
<!-- box top plate edge -->
<path d="M754.9 263.5 L794.8 289.7" stroke-dasharray="14 3 3 3"/>
<path d="M793.4 290 L734.6 322.7 L667.6 361.9" stroke-width="1.4" stroke-dasharray="12 4 3 4"/>
<path d="M793.4 290 L797 400 L800 468" stroke-width="2" stroke-dasharray="16 3"/>
<path d="M796.5 300 L798.5 400 L801.5 466" stroke-dasharray="20 4"/>
<path d="M794 338 L796 352" stroke-width="3"/>
<!-- box left edge and bottom -->
<path d="M669.2 394.6 L669.2 461.5" stroke-width="1.8" stroke-dasharray="10 3"/>
<path d="M671.5 400 L671.5 462" stroke-dasharray="8 4"/>
<path d="M670.8 461.5 L716.6 432.1" stroke-width="1.8"/>
<path d="M716.6 432.1 L799.9 468.1 M722 430.5 L801.5 465"/>
<path d="M737.5 434 L795 462" stroke-dasharray="16 4"/>
<path d="M632.4 517.3 L667.3 538.5 Q673 542.5 679.8 541 L800.9 472.4" stroke-width="1.4" stroke-dasharray="16 4 3 4"/>
<ellipse cx="652.4" cy="516.8" rx="5.5" ry="3.2"/>
<path d="M798.6 473.6 L952.1 566"/>
<!-- floor cutout -->
<path d="M672.3 462.4 L697.3 449.9 L714.8 449.9"/>
<path d="M714.8 449.9 L742.2 466.1" stroke-width="2"/>
<path d="M742.2 466.1 Q745 470 743.5 473.6 L684.8 507.3 Q678 509 672.3 507.3 L642.4 487.3"/>
<ellipse cx="771.5" cy="473.3" rx="5.7" ry="3.6"/>
<!-- back-left strip & slanted lines -->
<path d="M634.9 353 L634.9 470 M630 343.9 L669.2 304.7 L677.4 303.1 M632 347 L632 353 L636 356"/>
<path d="M633 352 L660 366 M640 350.5 L664 362.5 M636 376 L667 398 M636 381 L660 398 M634.9 370 L650 362 M660 362 L668 362 L668 370" />
<path d="M642 352 L656 359" stroke-width="2.2" stroke-dasharray="1.5 1.2"/>
<path d="M645 392 L660 401" stroke-width="2.2" stroke-dasharray="1.5 1.2"/>
<path d="M636 390 L640 383 L650 380 L650 390 L640 396 M645 386.5 L647.5 391.5" />
<ellipse cx="646" cy="388.5" rx="1.5" ry="2.4" class="k"/>
<path d="M651 368 Q665 374 685 369 L690 378 L692 388"/>
<path d="M660 396 L668 402 L672 397 M664 404 L664 410"/>
<!-- clamp block top-left in box -->
<path d="M673.3 304.7 L683.9 298.2 L697 301.4 L697 324.3 L682.3 330.8 L673.3 325.9Z" stroke-dasharray="9 2"/>
<path d="M682.3 300 L682.3 330" stroke-width="1.8" stroke-dasharray="7 2"/>
<ellipse cx="689.8" cy="316" rx="2.8" ry="4.4" class="k" transform="rotate(18 689.8 316)"/>
<!-- top rail inside box -->
<path d="M692 352 L735 328 M722 336 L748 324 L760 322 L765 326 L765 336" stroke-width="1.8" stroke-dasharray="8 3"/>
<path d="M696 346 L715 336 M716 331 L722 328 L726 331 L722 338" />
<path d="M733 332 L733 345 M737 331 L737 344 M733 338 L760 327" stroke-dasharray="7 2"/>
<rect x="733.5" y="333" width="4" height="5" class="k"/>
<!-- back wall relays -->
<path d="M686.5 354.5 L702 346.5 L716.5 349 L716.5 368.5 L702 376.5 L686.5 375Z M696.5 351 L696.5 378 M702 354 L702 377 M716.5 349 L716.5 372" stroke-dasharray="8 2"/>
<path d="M696 355 L702 358 M697 360 L701 362 M697 366 L701 368 M697 372 L701 374 M689 366 L692 364.5" />
<path d="M730 336 L730 366 M738 340 L738 372" stroke-dasharray="10 3"/>
<rect x="725.5" y="362" width="5.5" height="7" class="k"/><rect x="707" y="375" width="5" height="5" class="k"/>
<path d="M688 383 L688 395 M691 382 L691 394" stroke-width="1.8"/>
<path d="M668.5 395 L672 392 L675 394 L675 404" stroke-width="1.8"/>
<!-- small leader markers -->
<circle cx="783.8" cy="351.5" r="1.7"/><path d="M773.8 356.2 L782.3 352.5 M773.8 356.2 L820 384.8"/>
<circle cx="783.5" cy="408.5" r="1.9"/>
<!-- cylinders and wire fans into fuse block -->
<path d="M800 320.5 L815 330 M801.5 318 Q808 308 815 318 Q816 330 809 338 M800 343 L809 338 M803 369 L822 380 M803 393.5 L813 396 Q806 385 813 376"/>
<path d="M815 318 L827 327 M809 338 L822 344 M813 376 L826 381 M813 396 L823 398"/>
<path d="M809 327 L829 333 M811 329 L830 338 M812 331 L829 343 M812 333 L828 348 M813 324.5 L833 326 M814 322 L838 323" />
<path d="M812 375 L829 380 M813 378 L829 385 M813 381 L828 390 M813 384 L828 395 M815 372.5 L833 374 M816 370 L838 372" />
<!-- fuse block -->
<path d="M827.3 332.1 L849.8 319.7 L859.7 324.6 L866 337.1 L866 411 L842.5 424 L827.3 415"/>
<path d="M827.3 332.1 L830 336 L827.3 340 L830 344 L827.3 348 L830 352 L827.3 356 L830 360 L827.3 364 L830 368 L827.3 372 L830 376 L827.3 380 L830 384 L827.3 388 L830 392 L827.3 396 L830 400 L827.3 404 L830 408 L827.3 412 L827.3 415"/>
<path d="M842.3 342 L842.3 424 M842.3 342 L866 330 M842.3 342 L830 336"/>
<path d="M842.3 352 L866 340 M842.3 362 L866 350 M842.3 372 L866 360 M842.3 382 L866 370 M842.3 392 L866 380 M842.3 402 L866 390 M842.3 412 L866 400"/>
<path d="M830 346 L842.3 352 M830 356 L842.3 362 M830 366 L842.3 372 M830 376 L842.3 382 M830 386 L842.3 392 M830 396 L842.3 402 M830 406 L842.3 412"/>
<path d="M849.8 319.7 L852 328 L859.7 324.6"/>
</g>

<path class="w" d="M728.7 373.6 L728.7 388.6 L738.5 393.6 L748.3 388.6 L748.3 373.6 L738.5 368.1 Z" stroke-dasharray="9 1.5"/><path class="l" d="M730.7 375.1 L738.5 378.6 L746.3 375.1 M737.2 379.6 L737.2 392.6 M739.8 379.6 L739.8 392.6"/><path d="M749.8 376.6 l0 6 M751.8 375.1 l0 6.5 M753.8 374.1 l0 6" stroke="#000" stroke-width="1.7" fill="none"/><path class="w" d="M709.2 384.8 L709.2 399.8 L719.0 404.8 L728.8 399.8 L728.8 384.8 L719.0 379.3 Z" stroke-dasharray="9 1.5"/><path class="l" d="M711.2 386.3 L719.0 389.8 L726.8 386.3 M717.7 390.8 L717.7 403.8 M720.3 390.8 L720.3 403.8"/><path d="M730.3 387.8 l0 6 M732.3 386.3 l0 6.5 M734.3 385.3 l0 6" stroke="#000" stroke-width="1.7" fill="none"/><path class="w" d="M745.0 386.6 L745.0 401.6 L754.8 406.6 L764.6 401.6 L764.6 386.6 L754.8 381.1 Z" stroke-dasharray="9 1.5"/><path class="l" d="M747.0 388.1 L754.8 391.6 L762.6 388.1 M753.5 392.6 L753.5 405.6 M756.1 392.6 L756.1 405.6"/><path d="M766.1 389.6 l0 6 M768.1 388.1 l0 6.5 M770.1 387.1 l0 6" stroke="#000" stroke-width="1.7" fill="none"/><path class="w" d="M689.7 396.0 L689.7 411.0 L699.5 416.0 L709.3 411.0 L709.3 396.0 L699.5 390.5 Z" stroke-dasharray="9 1.5"/><path class="l" d="M691.7 397.5 L699.5 401.0 L707.3 397.5 M698.2 402.0 L698.2 415.0 M700.8 402.0 L700.8 415.0"/><path d="M710.8 399.0 l0 6 M712.8 397.5 l0 6.5 M714.8 396.5 l0 6" stroke="#000" stroke-width="1.7" fill="none"/><path class="w" d="M725.5 397.8 L725.5 412.8 L735.3 417.8 L745.1 412.8 L745.1 397.8 L735.3 392.3 Z" stroke-dasharray="9 1.5"/><path class="l" d="M727.5 399.3 L735.3 402.8 L743.1 399.3 M734.0 403.8 L734.0 416.8 M736.6 403.8 L736.6 416.8"/><path d="M746.6 400.8 l0 6 M748.6 399.3 l0 6.5 M750.6 398.3 l0 6" stroke="#000" stroke-width="1.7" fill="none"/><path class="w" d="M670.2 407.2 L670.2 422.2 L680.0 427.2 L689.8 422.2 L689.8 407.2 L680.0 401.7 Z" stroke-dasharray="9 1.5"/><path class="l" d="M672.2 408.7 L680.0 412.2 L687.8 408.7 M678.7 413.2 L678.7 426.2 M681.3 413.2 L681.3 426.2"/><path d="M691.3 410.2 l0 6 M693.3 408.7 l0 6.5 M695.3 407.7 l0 6" stroke="#000" stroke-width="1.7" fill="none"/><path class="w" d="M706.0 409.0 L706.0 424.0 L715.8 429.0 L725.6 424.0 L725.6 409.0 L715.8 403.5 Z" stroke-dasharray="9 1.5"/><path class="l" d="M708.0 410.5 L715.8 414.0 L723.6 410.5 M714.5 415.0 L714.5 428.0 M717.1 415.0 L717.1 428.0"/><path d="M727.1 412.0 l0 6 M729.1 410.5 l0 6.5 M731.1 409.5 l0 6" stroke="#000" stroke-width="1.7" fill="none"/><path class="w" d="M686.5 420.2 L686.5 435.2 L696.3 440.2 L706.1 435.2 L706.1 420.2 L696.3 414.7 Z" stroke-dasharray="9 1.5"/><path class="l" d="M688.5 421.7 L696.3 425.2 L704.1 421.7 M695.0 426.2 L695.0 439.2 M697.6 426.2 L697.6 439.2"/><path d="M707.6 423.2 l0 6 M709.6 421.7 l0 6.5 M711.6 420.7 l0 6" stroke="#000" stroke-width="1.7" fill="none"/><path class="w" d="M667.0 431.4 L667.0 446.4 L676.8 451.4 L686.6 446.4 L686.6 431.4 L676.8 425.9 Z" stroke-dasharray="9 1.5"/><path class="l" d="M669.0 432.9 L676.8 436.4 L684.6 432.9 M675.5 437.4 L675.5 450.4 M678.1 437.4 L678.1 450.4"/><path d="M688.1 434.4 l0 6 M690.1 432.9 l0 6.5 M692.1 431.9 l0 6" stroke="#000" stroke-width="1.7" fill="none"/>
<g class="l">
<!-- extra back-wall detail inside box -->
<path d="M702 346.5 L702 376 M706 345 L706 372 M710 347.5 L710 370" stroke-dasharray="6 2"/>
<path d="M716.5 349 L728 343 L728 362 L716.5 368.5 M720 347 L720 366" stroke-dasharray="7 2"/>
<path d="M742 337 L742 370 M746 335 L746 372 M750 333 L750 362" stroke-dasharray="9 3"/>
<path d="M740 346 L752 341 M740 352 L752 347" />
<path d="M752 326 L752 334 L757 332 L757 324 M760 323 L760 331" stroke-width="1.6"/>
<path d="M676 372 L684 377 M676 376 L684 381 M678 384 L678 392 M681 383 L681 391" stroke-width="1.5"/>
<path d="M692 380 L700 385 L700 393 M704 377 L712 381 L712 388 M722 368 L730 372 L730 380 M742 372 L748 375 L748 383" />
<path d="M693 390 L693 396 M696 391 L696 397 M713 380 L713 387 M731 371 L731 378" stroke-width="1.8"/>
<path d="M655 402 L670 411 M652 406 L668 416 M650 397 L650 410" />
<path d="M640 396 L640 432 M636.5 431 L650 437 M644 415 L656 421" />
</g>

<g class="l">
<!-- trunk -->
<path d="M597 347.4 L600.3 381.7 L601.9 430.7 L595.4 437 L596.2 500 L596.2 559.7 Q612.4 572 629.9 559.7 L629.9 527.3 L633.7 499.8 L638.6 451 L639.5 430 L636.2 425 L632.5 381 L630.5 344 Q614 354.5 597 347.4Z" class="w"/>
<path d="M587.2 331 L597 347.4"/>
<path d="M597.5 434.9 Q617.4 446 639.9 429.9 M598.5 431 Q617.4 442 639.9 426 M600 449.9 Q617.4 459 638.6 451.2"/>
<path d="M621.2 309.7 L623 343" />

<!-- top of trunk collar -->

<!-- ring base -->
<path d="M642.4 467.4 L654.9 464.9 L668.6 467.4 L669.9 482.3 Q668 490 654.9 492.3 Q643 491 639.9 484.8 Z" stroke-dasharray="12 2"/>
<path d="M645 470 Q648 480 660 483 L668 481 M652 468 L656 478 L664 476 M658 466 L658 474 M640 485 Q642 495 655 496 Q668 495 671.5 487"/>
<!-- floor plate left edges -->
<path d="M637.4 474.9 L631.2 517.3 L628.7 527.3 M639.6 487.3 L669.6 507.3"/>
<!-- base plate under trunk -->
<path d="M534.8 556 L577.2 527.8 M534.8 556 L534.8 566 L605.9 604.6 L639.6 585.9 L639.6 573.4 L629.9 567"/>
<path d="M534.8 556 L605.9 597.2 L639.6 573.4 M605.9 597.2 L605.9 604.6 M577.2 527.8 L596 536"/>
<path d="M540 561 L602 597" stroke-dasharray="16 3"/>
<path d="M538 564.5 L603 601.5" stroke-dasharray="10 4"/>
<path d="M546 552 L546 546 L549 544.5 Q553 545 553 549 L553 552.5 Q549 554.5 546 552 M536.5 553.5 L539 549 L546 546"/>
<path d="M604.6 589 L604.6 583 L612 581.5 L614 583.5 L614 593 L608 596 M610 584 L610 594 M606 600.5 L612.5 597" />
<circle cx="593" cy="549" r="1.6"/>
<path d="M604 603.5 L607.5 605.5" stroke-width="2.5"/>
<!-- left loop cables -->
<path d="M543.6 467.4 Q545 478 547.3 487.3 Q553 501 562.3 512.3 Q570 521 579.7 527.3 L594.7 532.3"/>
<path d="M567.3 444.9 Q567.5 458 569.8 469.9 Q573.5 483 579.7 494.8 L593.5 512.3"/>
<path d="M574.7 427.5 L579.7 442.4 L592.2 464.9 L602.2 477.4"/>
<path d="M588.5 459.9 L588.5 494.8" stroke-dasharray="9 3" stroke-width="1.6"/>
<path d="M596.2 477 Q590 490 589.5 510"/>
<path d="M571 404 L571 428 Q571 438 574 446 M541 437 L541 452 M556 420 L556 430 M541.5 452.5 L556 447.5 L568 446"/>
<path d="M540 410 L540 414 L571 425.5 M538.5 414 L543 414 M546 409 L546 416 M556 404 L556 430" stroke-dasharray="7 2"/>
<path d="M573 426 L596.5 434.5 M575 408 L575 426 M584 411 L584 429"/>
<path d="M543 401.5 L551 404.5 L551 410 M560 404 L562 398 L567 399.5"/>
<!-- small connector left of loop -->
<path d="M516.1 457.4 L529.8 448.7 L546 457.4 L546 466.1 L533.6 473.6 L516.1 466.1Z M516.1 457.4 L533.6 465 L546 457.4 M533.6 465 L533.6 473.6" stroke-dasharray="10 1.5"/>
<path d="M541 452.5 Q550 448 560 448.5 L567.5 449.5 M543.5 455.5 Q551 451 560 451 L567.5 452.5"/>
<circle cx="567.5" cy="450.5" r="1.5" class="k"/>
<!-- cable to lower right from trunk -->
<path d="M629.7 527.3 Q638 535 644.6 544.7 Q650 557 654.6 569.7 L662.1 579.7"/>
<path d="M622.2 539.8 Q631 546 637.1 554.7 Q643 565 647.1 574.7 Q652 583 659.6 589.7"/>
<path d="M639.6 585.9 L652 581 M612.2 607.1 Q620 618 629.7 627.1 Q641 636 654.6 642.1 Q668 648 683.6 652.5"/>
<path d="M641 573.5 L648 579"/>
<!-- clip -->
<path d="M654.9 554.7 L664 551 L664 545.5 L659 543.5 M654.9 554.7 L660 557.5 L660 567 L655.5 569.5 M663 555.5 L672.3 553 L672.3 567.5 L664 571 L664 561 L669.5 559.5 M655 558 L658.5 565" />
<!-- sleeve & cable to right -->
<path d="M672.3 573 Q661 574.5 658.5 584.7 Q658 593.5 664.8 596.5 L676 598.5 M672.3 573 L685 577 M676 598.5 L676 612 M684.8 601 L684.8 616"/>
<path d="M685 577 Q673.5 581 671 590.5 Q671 597 676 598.5"/>
<path d="M685 577 L729.7 612.1 M676 598.5 L722.3 624.6"/><path d="M729.7 612.1 L799.6 647.1 M722.3 624.6 L799.6 669.5" stroke-dasharray="20 3"/>
<circle cx="687.3" cy="582.9" r="4.6"/><circle cx="687.3" cy="582.9" r="2.6"/>
<!-- connector right of ring -->
<path d="M691.1 564.7 L699.8 559.7 Q716 565 732.2 583.4 L732.2 594.7 L723.5 607.1 M691.1 564.7 L693 571 L697 569 M697 562 L726 580 L726 590 M699.8 559.7 L701 566"/>
<path d="M702 568 L720 580 M701 573 L718 585" stroke-dasharray="6 2.5"/>
<path d="M708 572 L713 577 M713 572 L708 577 M720 580 L724 585 M722 590 L727 594" />
<path d="M732.2 594.7 L729.7 612.1"/>
<!-- terminal end -->
<path d="M797.1 644.6 L800.5 648.5 L804 655 L806 661 M797.1 644.6 L802.5 650 L808.5 656 L810.5 661.5"/>
<path d="M804.5 656 Q800.5 662.5 800.5 668.5 L805 671"/>
<path d="M812 658 L817 661 L820 659.5 M815 664 L822 666" />
<ellipse cx="825.8" cy="663.3" rx="4.5" ry="3.2" transform="rotate(20 825.8 663.3)"/><ellipse cx="826.2" cy="663.5" rx="2" ry="1.3"/>
<path d="M822 668 Q815.5 671.5 814.5 678 Q816 683.5 821 684 L832.5 673.5 L842 669.5 L844 665.5 M830 672 L838 667 M821 684 Q820 677 826.5 672"/>
</g>

<g class="l">
<!-- left cable tube -->
<path d="M441.3 632.9 Q441 629.5 444.6 628 L482.2 648.4 L469.1 659.9 L441.3 634.5 M466.5 640.3 L458 650 M470 642 L461.5 652.5"/>
<path d="M469.1 661.5 L462.6 674.6 L458.5 682.7 M482.2 648.4 L490.3 643.5 L500.2 650.1 M495.2 676.2 L487.1 695.8 M469.1 661.5 Q473 652 482.2 648.4"/>
<path d="M495.2 675.5 L503 674.5 M486 644.5 L495 642 L500 650" stroke-width="1.6"/>
<!-- lower lug -->
<path d="M438.1 692.5 L458.5 682.7 L474 690.9 L493.6 702.3 L493.6 706.4 L478.9 713.8 L457.7 702.3 M438.1 692.5 L443 695.5 L457.7 702.3 M474 690.9 L461 697"/>
<path d="M457 699.5 L478 712 L493 704" stroke-width="1.8"/>
<ellipse cx="478.9" cy="704" rx="6.3" ry="4" stroke-width="2"/><ellipse cx="480" cy="704.8" rx="3" ry="2"/>
<path d="M440 697 L456 709 L456 715 L463 716.5 M445 694 L451 691 M463.5 691.5 L473 687" stroke-dasharray="6 2"/>
<ellipse cx="490" cy="708.5" rx="2.5" ry="1.2" transform="rotate(-25 490 708.5)"/>
<!-- upper lug -->
<path d="M518.1 637 L532.8 627.2 L559 643.5 L559 646.8 L545.9 655 L518.1 637 M495.2 635.4 L516.5 623.9 L526.3 623.9 L532.8 627.2 M495.2 635.4 L495.2 639.5 L506.7 632.9 L516.5 635.4"/>
<path d="M519 639.5 L545.5 657 L558.5 649" stroke-width="1.8"/>
<ellipse cx="545.1" cy="645.5" rx="5" ry="3.3" stroke-width="2.4"/>
<path d="M524.7 643.5 L524.7 659.9 L537.7 653.3 M524.7 651 L531 655 M526 628.5 L535 633.5 M522.5 633 L533.5 627.5"/>
<!-- dash-dot center lines -->
<path d="M503.4 650.1 L660 741" stroke-dasharray="22 4 4 4"/>
<path d="M496.9 676.2 L627.4 752.3" stroke-dasharray="22 4 4 4"/>
<!-- upper big curve -->
<path d="M526.3 620.6 Q534 618 542.6 617.4 Q554 616.8 565.5 618.2 Q577 620 588.4 623.9 Q603 630 615 638.6 Q624 645 634.9 649.9 Q647 655 659.8 657.4 Q672 659.5 683.5 659.9"/>
<path d="M552.4 651.7 Q562 652.5 572 655 Q581 657.5 588.4 661.5 Q596 667 601.4 674.6"/>
<path d="M612.2 607.1 Q622 620 634.9 630 Q647 638 659.8 642.4 Q671 647 682.3 649.9"/>
<path d="M599.8 674.6 Q612 667 629.9 668.3 Q645 669.5 659.8 668.6 L683.5 666.2"/>
<!-- top-left connectors (dashed) -->
<path d="M465 596.1 L490.3 579.8 L502.6 585.5 L502.6 601 L474 617.4 L465 614.1Z M465 596.1 L476 601 L502.6 585.5 M476 601 L476 617" stroke-dasharray="7 2"/>
<path d="M495.2 614.1 L516.5 599.4 L529.6 593.7 L537.7 601 L536.1 607.6 L516.5 619 L503.4 627.2 M497 616 L497 628 M516.5 608 L516.5 619 M522 597 L530 603.5 L530 610" stroke-dasharray="7 2"/>
<path d="M464.2 614.1 L464.2 635.4 L474 642 L474 617.4 M474 617.4 L497 616 M479 624 L479 632 L495 622" stroke-dasharray="7 2"/>
<path d="M480 588 L486 591 L491 588 M484 597 L494 591.5 M487 604 L498 598 M489 607.5 L495 605 L492 602Z M521 600 L527 603 M524 596 L530 599 M520 618 L523 614 L526.5 617.5Z" />
<path d="M478 607 L478 613 M483 605 L483 611 M488 613 L488 620 M519 606 L519 614 M523 604 L523 611.5" stroke-width="1.6"/>
<ellipse cx="532" cy="598.5" rx="2.3" ry="3.5" transform="rotate(-30 532 598.5)"/><ellipse cx="535" cy="602" rx="2.3" ry="3.5" transform="rotate(-30 535 602)"/>
<!-- wires -->
<path d="M449.5 627.2 Q452 617 457.7 610.8 Q463 605.5 470.7 604.3 M451.5 628.2 Q454 618.5 459.5 612.5 Q464.5 607.5 470.7 606.5"/>
<path d="M452.8 632 Q460 628.5 469 626.5 M453.5 634 Q461 630.5 469.5 628.5"/>
<path d="M475.6 638.6 Q480 632 485.4 627.2 Q491.5 622 498.5 619 M477.5 639.5 Q482 633.5 487 629 Q493 624 498.5 621"/>
<ellipse cx="469.5" cy="605.5" rx="2.2" ry="1.3" transform="rotate(-30 469.5 605.5)"/><ellipse cx="498" cy="620" rx="2.2" ry="1.3" transform="rotate(-30 498 620)"/>
<path d="M497 637.5 Q506 631 514 633.5"/>
<!-- mid connector (dashed) -->
<path d="M588.7 679.9 L602.4 673.6 L624.9 687.4 L624.9 697.3 L616.2 702.3 L590 689.9Z M602 687 L616 695 L624.9 690.5 M616 695 L616 702" stroke-dasharray="6 2"/>
<path d="M600 683 L600 691 M598 687 L602.5 683.5 M598 691 L602.5 693.5 M607 678 L611 680.5 M613 684 L618 686" stroke-width="1.6"/>
<path d="M624.9 690 L640 700 M624.9 694 L640 704.5 M627 692 L641 702"/>
<!-- big bend -->
<path d="M699.8 631.2 Q712 630.5 722.2 633.7 Q732 639 737.2 647.4 Q740.5 654.5 739.7 662.4 Q738 672 732.2 679.9 Q723.5 689 712.2 694.8 Q701.5 700 689.8 702.3 Q675 704.5 659.8 703.6 Q643 701 627.4 694.8"/>
<path d="M699.8 654.9 Q708.5 656 714.7 659.9 Q720.5 665.5 723.5 672.4 Q726 678.5 724.7 684.9 Q720 691 712.2 693.6"/>
<path d="M684.8 667.4 L694.8 663.7 Q701 668.5 706 674.9 Q709.5 682 709.7 689.9 Q708.5 695.5 704.7 698.6 L698.5 698.6 M688.5 666.5 Q696 671.5 701 678 Q704.5 685 704.7 692.5 L703 697"/>
<!-- lower cable end loop -->
<path d="M560 682.4 L590 697.3 L657.3 739.8 L664.8 744.8 Q669 740.5 668.6 734.8 Q668.5 726.5 664.8 719.8 Q660 712.5 652.3 708.6 Q648 707.5 646.1 709.8 Q645 713 646.1 716.1 Q654 722 659.8 729.8 L659.8 739.8"/>
<!-- bracket -->
<path d="M683.5 636.2 L698.5 630 L699.8 654.9 L684.8 667.4Z M683.5 636.2 L683.5 665.5" />
<path d="M683.5 637 L683.5 666" stroke-width="1.8"/>
<ellipse cx="691" cy="643.7" rx="3.6" ry="5" transform="rotate(20 691 643.7)" stroke-width="1.6"/>
<path d="M691.5 632.5 L698 630" stroke-width="3" stroke-dasharray="1.2 1.2"/>
<!-- clip left -->
<path d="M626.1 648 L632 642 L640 641.2 L646.1 646 L641 652 L636 657.4 L630 655Z M634 644 L634 650 L640 652 L644 648 M633 651.5 L633 656"/>
<path d="M646.1 649.5 L655 647 L660 650 M641 656 L652 658 L660 653"/>
<ellipse cx="637.5" cy="653.5" rx="2.6" ry="3" />
<!-- loose lines -->
<path d="M669.8 610 L699 624" stroke="none"/>
</g>

<g class="l"><path class="w" d="M921.7 104.8 L931.6 102.3 L931.6 116.0 L928.4 118.5 L928.4 133.5 L919.2 136.0 L918.7 119.8 L921.7 117.3Z"/><path d="M921.7 117.3 L928.4 118.5"/><circle cx="926.7" cy="109.1" r="1.6"/><path d="M921.5 124.5 l4 -1 l0 7 l-4 1z"/><path class="k" d="M922.0 128.3 l3 -0.8 l0 3.5 l-3 0.8z"/><path d="M918.9 119.8 l0 16" stroke-width="1.8"/><path class="w" d="M940.4 94.8 L950.3 92.3 L950.3 106.0 L947.1 108.5 L947.1 123.5 L937.9 126.0 L937.4 109.8 L940.4 107.3Z"/><path d="M940.4 107.3 L947.1 108.5"/><circle cx="945.4" cy="99.1" r="1.6"/><path d="M940.2 114.5 l4 -1 l0 7 l-4 1z"/><path class="k" d="M940.7 118.3 l3 -0.8 l0 3.5 l-3 0.8z"/><path d="M937.6 109.8 l0 16" stroke-width="1.8"/><path class="w" d="M959.1 84.8 L969.0 82.3 L969.0 96.0 L965.8 98.5 L965.8 113.5 L956.6 116.0 L956.1 99.8 L959.1 97.3Z"/><path d="M959.1 97.3 L965.8 98.5"/><circle cx="964.1" cy="89.1" r="1.6"/><path d="M958.9 104.5 l4 -1 l0 7 l-4 1z"/><path class="k" d="M959.4 108.3 l3 -0.8 l0 3.5 l-3 0.8z"/><path d="M956.3 99.8 l0 16" stroke-width="1.8"/><path class="w" d="M977.8 74.9 L987.7 72.4 L987.7 86.1 L984.5 88.6 L984.5 103.6 L975.3 106.1 L974.8 89.9 L977.8 87.4Z"/><path d="M977.8 87.4 L984.5 88.6"/><circle cx="982.8" cy="79.2" r="1.6"/><path d="M977.6 94.6 l4 -1 l0 7 l-4 1z"/><path class="k" d="M978.1 98.4 l3 -0.8 l0 3.5 l-3 0.8z"/><path d="M975.0 89.9 l0 16" stroke-width="1.8"/></g>
<g class="l">
<!-- leaders top right -->
<path d="M948.6 0 L936.6 46.2"/>
<path d="M985.3 22.5 L965.8 56.2"/>
<path d="M1018.2 42.4 L987.8 70.6"/>
<path d="M965.8 68.6 L977.8 74.4"/>
<path d="M987.8 79.9 L1003.3 87.8 L1003.3 363.5 M1003.3 379.7 L1003.3 434.6 M1003.3 468.5 L1003.3 522.4 L1012.8 528.6"/>
<path d="M980.3 102.3 L980.3 239"/>
<path d="M924.2 136 L927.9 159.2 L964.1 137.3 L962.3 112.3"/>
<path d="M942.9 124.8 L949.6 178.4"/>
<path d="M897.2 220.1 L909.2 269.5"/>
<path d="M942.9 289.9 L947.9 313.6 L985.3 292.4 L980.3 269.9"/>
<path d="M961.6 279.9 L972.8 325.3"/>
<path d="M916.6 302.4 L916.6 442.1"/>
<!-- small dashed connector + wire -->
<path d="M874.7 152.4 L884.7 146.2 L907.1 157.4 L907.1 173.7 L898.4 179.9 L874.7 164.9 M898.4 163.5 L898.4 179.9 M884 156 L898.4 163.5 L907.1 157.4 M884 156 L884 168" stroke-dasharray="6 1.5"/>
<path d="M872.5 152 L877.5 155 L877.5 161 L872.5 158Z M874 156 L880 165" stroke-width="1.7"/>
<path d="M867.7 216.1 L867.7 157.4 Q868.5 152.5 872.2 151.9 M871.4 214.8 L869.8 158 L873 153.5"/>
<!-- cable end going to small connector -->
<path d="M819.8 224.8 Q830 229.5 839.8 229.8 Q850 228 859.7 222.3 L866.5 217"/>
<path d="M824 232.5 Q840 238 854.9 229.8 L871 220"/>
<ellipse cx="869.5" cy="217" rx="3.2" ry="2.8"/><path d="M868 216 Q870.5 214.5 871.2 217.5"/>
<!-- clamp at (830,232) -->
<path d="M823.5 229.8 L837.3 234.8 L837.3 252.3 L824.8 247.3Z"/>
<circle cx="829.8" cy="235.3" r="2.6"/>
<path d="M819.8 207.3 L839.8 214.8 L839.8 222.3 L834 224 M821 209.5 L821 214 L826 216 M826 210 L826 218 M832 213 L832 222 M836 214 L836 223" />
<path d="M826 218 L836 222" stroke-width="3" stroke-dasharray="1.5 1.5"/>
<path d="M817.3 222.3 Q819 216 823.5 214 M822 224 Q823 220 826 218.5"/>
<!-- sleeves on big arcs -->
<path d="M813.5 244.8 Q806 254 809.8 267.2 M829.8 252.3 Q821.5 262 823.5 273.5 M809.8 267.2 L823.5 273.5"/>
<!-- outer arc -->
<path d="M837.3 252.3 Q851 265 862.2 279.7 Q872 294 879.7 309.7 Q887 325 892.2 339.6 L885.9 344.6 Q880 343.5 874.7 342.1 L869.7 344.6"/>
<path d="M824.8 272.2 L829 276"/>
<!-- leader to relay group1 -->
<path d="M897.9 219.8 L909.1 269.7" stroke="none"/>
<!-- relay group 2 harness -->
<path d="M1047.7 322.3 L1035.7 367.8"/>
<path d="M1012.8 367.8 L1032.7 367.8 Q1041 369 1047.7 372.2 Q1054.5 376 1058.9 381 L1062.7 391 M1012.8 367.8 L1014 377.7 L1032.7 378.5 Q1040 380 1045.2 383.5 L1050.7 391"/>
<path d="M985.3 376 Q990 373.5 995.3 372.2 L1012.8 372.7 M986 378 Q991 375.5 996 374.3 L1013.3 374.8"/>
<path d="M1050.7 391 L1050.7 452.1 M1062.2 391 L1062.2 452.1 M1050.7 391 Q1056 394.5 1062.2 391 M1050.7 398 Q1056 401.5 1062.2 398 M1050.7 445 Q1056 448.5 1062.2 445 M1050.7 452.1 Q1056 455.5 1062.2 452.1" />
<path d="M1050.7 393 Q1056 396.5 1062.2 393 M1050.7 447 Q1056 450.5 1062.2 447" />
<path d="M1062.2 452.1 Q1062 458 1060.2 462.1 Q1056 468 1050.2 470.8 Q1042 470.5 1035.2 468.3 L1012.8 457.1 L992.8 447.1 Q982 445.5 972.8 447.1 Q965 450 957.9 454.6 L920.4 479.6"/>
<path d="M1050.7 452.1 Q1050 456 1047.7 458.3 Q1043 459.5 1037.7 458.3 L1017.7 449.6 L992.8 439.6 Q982 437.5 972.8 438.4 Q965 442 957.9 447.1 L935 461.5"/>
<path d="M912.9 472.1 L912.9 479.6 Q915 483 917.9 482.1 L920.4 479.6 M915 471 L915.5 479 M917.3 469 L917.3 478.5"/>
<path d="M1062.7 392.2 L1085.6 392.2 L1085.6 450.9 L1062.7 450.9 M1085.6 421.4 L1106.3 420.2"/>
<path class="k" d="M1059.5 380.5 l6.5 1.2 l-2.5 4.5z M1062 438 l5 1.5 l-3 4.5z"/>
<path d="M1062.5 386 L1062.5 391 M1064 443 L1064 452" stroke-width="1.8"/>
<!-- arrows -->
<path d="M1071.9 377.2 L1123.8 348.5"/>
<path d="M1123.8 348.5 L1100.1 358.5 L1105.1 363.5Z M1123.8 348.5 L1101.3 359.8 M1123.8 348.5 L1102.5 361 M1123.8 348.5 L1103.8 362.3 M1104 357 L1108 361.5 M1108 355.5 L1111 359"/>
<path d="M846 454.9 L894.7 427.5 M867.2 411.2 L894.7 426.2"/>
<path d="M894.7 427.5 L871 437 L877.2 442.4Z M894.7 427.5 L872.5 438.3 M894.7 427.5 L874 439.6 M894.7 427.5 L875.5 441 M875.5 435 L880 440 M879.5 433.5 L883 437.5"/>
<!-- leader bracket group2 -->
<path d="M972.8 509.9 L989 542.3"/>
<path d="M873 519.9 L952.9 567.3" stroke="none"/>
<!-- bracket 1 (solid) -->
<path d="M956.6 563.5 L1045.2 513.6 M958 566 L1045.2 516.1 M965.8 573.5 L1045.2 528.6"/>
<path d="M1045.2 513.6 L1056.4 511.1 L1056.4 523.6 L1046.4 528.6 L1045.2 513.6 M1026.5 517.4 L1037.7 512.4 L1045.2 514.9 M1026.5 517.4 L1026.5 519.9 L1037.7 524.8 L1045.2 528.6 M1037.7 512.4 L1041 509.5 L1052 509.5 L1056.4 511.1"/>
<ellipse cx="1051.4" cy="518.6" rx="1.6" ry="2.4" transform="rotate(20 1051.4 518.6)" stroke-width="1.5"/>
<path d="M935.4 569.8 L947.9 564.8 L956.6 568.5 L956.6 581 L938.4 589.7 L938.4 573.5 M935.4 569.8 L956.6 579 M956.6 564.8 L965.3 562.3 L965.8 573.5 L957.9 578.5"/>
<path d="M956.6 563.5 L956.6 581" stroke-width="1.7"/>
<circle cx="961.6" cy="570.3" r="2.2"/><circle cx="961.6" cy="570.3" r="0.9"/>
<circle cx="969.1" cy="567.8" r="2.8"/><circle cx="969.3" cy="567.8" r="1.2"/>
<circle cx="985.3" cy="556" r="3"/><path d="M983 558 L985.5 560.5 L988 557.5"/>
<circle cx="1005.3" cy="544.8" r="3"/><path d="M1003 547 L1005.5 549.5 L1008 546.5"/>
<circle cx="1024" cy="534.3" r="3"/><path d="M1021.5 536.5 L1024 539 L1026.5 536"/>
<circle cx="952" cy="566" r="1" class="k"/>
<!-- line to washer -->
<path d="M965.8 573.5 L1009 597.7 L1047.7 617.7"/>
<circle cx="1008.5" cy="597.5" r="1" class="k"/>
<!-- bracket 2 (phantom) -->
<path d="M1009 597.2 L1085.1 556" stroke-dasharray="13 3 2 3"/>
<path d="M1012.8 609.7 L1105.1 558.5" stroke-dasharray="13 3 2 3"/>
<path d="M994 592.2 L1002.8 586 L1007.8 588.5 L1007.8 597.2 M994 592.2 L994 621 L997.8 619.7 L997.8 594.7" stroke-dasharray="11 2"/>
<path d="M1085.1 539.8 L1092.6 534.8 L1098.9 536.1 L1098.9 543.6 L1105.1 544.8 L1105.1 558.5 M1085.1 539.8 L1085.1 552 Q1084 556.5 1080 558" stroke-dasharray="8 2"/>
<ellipse cx="1092.1" cy="541.1" rx="1.8" ry="2.4" transform="rotate(20 1092.1 541.1)" stroke-width="1.5"/>
<ellipse cx="1098.9" cy="554.8" rx="1.8" ry="2.4" transform="rotate(20 1098.9 554.8)" stroke-width="1.5"/>
<ellipse cx="1023.5" cy="597.7" rx="1.8" ry="2.4" transform="rotate(20 1023.5 597.7)" stroke-width="1.5"/>
<ellipse cx="1042.2" cy="586.7" rx="1.8" ry="2.4" transform="rotate(20 1042.2 586.7)" stroke-width="1.5"/>
<ellipse cx="1061.4" cy="576" rx="1.8" ry="2.4" transform="rotate(20 1061.4 576)" stroke-width="1.5"/>
<ellipse cx="1080.1" cy="565.5" rx="1.8" ry="2.4" transform="rotate(20 1080.1 565.5)" stroke-width="1.5"/>
<ellipse cx="1002.5" cy="594" rx="1.5" ry="2" />
<path d="M1012.8 596 L1022.8 590 M1035.2 583.5 L1050.2 576 M1061.4 568.5 L1077.6 559.8 M1013.8 597.5 L1023.8 591.5 M1036.2 585 L1051.2 577.5 M1062.4 570 L1078.6 561.3"/>
<ellipse cx="1004" cy="612" rx="4.3" ry="5.3" transform="rotate(20 1004 612)"/><ellipse cx="1006.5" cy="613" rx="2.6" ry="3.2" transform="rotate(20 1006.5 613)" stroke-width="1.6"/>
<path d="M1001 607.5 L1004.5 608.5 M1000.5 616.5 L1004 617.5"/>
<!-- terminal tags near top (cut) -->
</g>

<path class="w" d="M960.2 241.6 L973.4 234.5 L984.8 241.6 L986.0 258.7 L987.7 261.0 L972.5 269.7 L958.2 261.2 Z"/><path class="l" d="M960.2 241.6 L972.5 249.2 L984.8 241.6 M971.0 249.7 L971.0 267.2 M974.3 249.7 L974.3 267.2 M961.0 243.7 L972.5 251.2 L984.0 243.7 M958.2 259.2 L972.5 267.7 L987.7 259.0"/><path d="M983.2 245.7 L983.8 257.7" stroke="#000" stroke-width="3" fill="none"/><path d="M980.5 249.7 L980.5 258.2" stroke="#000" stroke-width="1.8" fill="none"/><path class="l" d="M975.8 252.2 L978.3 250.7 L978.3 262.7 L975.8 264.2 Z M978.5 255.2 L982.0 253.2"/><path class="k" d="M963.0 264.2 l2 1 l0 2 l-2 -1z M977.0 267.7 l2.2 -1.2 l0 2 l-2.2 1.2z"/><path class="w" d="M941.2 252.5 L954.4 245.4 L965.8 252.5 L967.0 269.6 L968.7 271.9 L953.5 280.6 L939.2 272.1 Z"/><path class="l" d="M941.2 252.5 L953.5 260.1 L965.8 252.5 M952.0 260.6 L952.0 278.1 M955.3 260.6 L955.3 278.1 M942.0 254.6 L953.5 262.1 L965.0 254.6 M939.2 270.1 L953.5 278.6 L968.7 269.9"/><path d="M964.2 256.6 L964.8 268.6" stroke="#000" stroke-width="3" fill="none"/><path d="M961.5 260.6 L961.5 269.1" stroke="#000" stroke-width="1.8" fill="none"/><path class="l" d="M956.8 263.1 L959.3 261.6 L959.3 273.6 L956.8 275.1 Z M959.5 266.1 L963.0 264.1"/><path class="k" d="M944.0 275.1 l2 1 l0 2 l-2 -1z M958.0 278.6 l2.2 -1.2 l0 2 l-2.2 1.2z"/><path class="w" d="M922.3 263.4 L935.5 256.3 L946.9 263.4 L948.1 280.5 L949.8 282.8 L934.6 291.5 L920.3 283.0 Z"/><path class="l" d="M922.3 263.4 L934.6 271.0 L946.9 263.4 M933.1 271.5 L933.1 289.0 M936.4 271.5 L936.4 289.0 M923.1 265.5 L934.6 273.0 L946.1 265.5 M920.3 281.0 L934.6 289.5 L949.8 280.8"/><path d="M945.3 267.5 L945.9 279.5" stroke="#000" stroke-width="3" fill="none"/><path d="M942.6 271.5 L942.6 280.0" stroke="#000" stroke-width="1.8" fill="none"/><path class="l" d="M937.9 274.0 L940.4 272.5 L940.4 284.5 L937.9 286.0 Z M940.6 277.0 L944.1 275.0"/><path class="k" d="M925.1 286.0 l2 1 l0 2 l-2 -1z M939.1 289.5 l2.2 -1.2 l0 2 l-2.2 1.2z"/><path class="w" d="M903.3 274.3 L916.5 267.2 L927.9 274.3 L929.1 291.4 L930.8 293.7 L915.6 302.4 L901.3 293.9 Z"/><path class="l" d="M903.3 274.3 L915.6 281.9 L927.9 274.3 M914.1 282.4 L914.1 299.9 M917.4 282.4 L917.4 299.9 M904.1 276.4 L915.6 283.9 L927.1 276.4 M901.3 291.9 L915.6 300.4 L930.8 291.7"/><path d="M926.3 278.4 L926.9 290.4" stroke="#000" stroke-width="3" fill="none"/><path d="M923.6 282.4 L923.6 290.9" stroke="#000" stroke-width="1.8" fill="none"/><path class="l" d="M918.9 284.9 L921.4 283.4 L921.4 295.4 L918.9 296.9 Z M921.6 287.9 L925.1 285.9"/><path class="k" d="M906.1 296.9 l2 1 l0 2 l-2 -1z M920.1 300.4 l2.2 -1.2 l0 2 l-2.2 1.2z"/><path class="w" d="M940.5 387 L944.3 382.7 L958 375.2 L974.6 367.1 L984.6 372.3 L984.6 393.2 L970.8 400.8 L956.6 409.3 L950.5 408.3 L940.5 403.6Z"/><path class="l" d="M944.3 382.7 L956.6 388.5 L970.8 381.3 L958 375.2 M970.8 381.3 L970.8 400.8 M956.6 388.5 L956.6 409.3 M970.8 381.3 L984.6 372.3 M940.5 387 L950.5 392 L950.5 408.3 M950.5 392 L956.6 388.5 M950.5 396.5 L956.6 393.5 M950.5 401.5 L956.6 398.5 M950.5 405.5 L956.6 402.5"/><path class="l" d="M950.5 380.5 L958 376.8 L964.5 380 L957 384Z M953.5 381.5 L958.5 379 L962 380.8 L957 383.5Z"/><path class="w" d="M905.1 440.7 l0 -11 l6 -2.5 l0 11"/><path d="M909.5 438.7 l0 -10.5" stroke="#000" stroke-width="2.6" fill="none"/><path class="w" d="M924.0 429.8 l0 -11 l6 -2.5 l0 11"/><path d="M928.4 427.8 l0 -10.5" stroke="#000" stroke-width="2.6" fill="none"/><path class="w" d="M943.5 419.3 l0 -11 l6 -2.5 l0 11"/><path d="M947.9 417.3 l0 -10.5" stroke="#000" stroke-width="2.6" fill="none"/><path class="w" d="M962.2 408.7 L973.6 402.1 L986.4 409.2 L986.9 426.3 L974.6 432.9 L962.2 425.9 Z"/><path class="l" d="M962.2 408.7 L974.6 415.9 L986.4 409.2 M974.6 415.9 L974.6 432.9"/><path d="M976.4 417.4 l0 14" stroke="#000" stroke-width="2" fill="none"/><path class="l" d="M970.1 416.4 l0 15 l3 1.5 l0 -14"/><path class="w" d="M943.3 419.6 L954.7 413.0 L967.5 420.1 L968.0 437.2 L955.7 443.8 L943.3 436.8 Z"/><path class="l" d="M943.3 419.6 L955.7 426.8 L967.5 420.1 M955.7 426.8 L955.7 443.8"/><path d="M957.5 428.3 l0 14" stroke="#000" stroke-width="2" fill="none"/><path class="l" d="M951.2 427.3 l0 15 l3 1.5 l0 -14"/><path class="w" d="M923.8 430.1 L935.2 423.5 L948.0 430.6 L948.5 447.7 L936.2 454.3 L923.8 447.3 Z"/><path class="l" d="M923.8 430.1 L936.2 437.3 L948.0 430.6 M936.2 437.3 L936.2 454.3"/><path d="M938.0 438.8 l0 14" stroke="#000" stroke-width="2" fill="none"/><path class="l" d="M931.7 437.8 l0 15 l3 1.5 l0 -14"/><path class="w" d="M904.9 441.0 L916.3 434.4 L929.1 441.5 L929.6 458.6 L917.3 465.2 L904.9 458.2 Z"/><path class="l" d="M904.9 441.0 L917.3 448.2 L929.1 441.5 M917.3 448.2 L917.3 465.2"/><path d="M919.1 449.7 l0 14" stroke="#000" stroke-width="2" fill="none"/><path class="l" d="M912.8 448.7 l0 15 l3 1.5 l0 -14"/><path class="l" d="M901.2 443.4 L901.2 457.6 L905.4 460.5 L907.3 458.6 L907.3 445.3 M903.5 444.5 L903.5 458"/><path class="l" d="M917.3 465.2 L933.9 457.6 L933.9 461.9 L917.3 469 M936.2 454.8 L951.9 447.2 L952.8 449.6 L936.7 458.6 M955.7 442.5 L955.7 455.5 M972.7 433 L972.7 438.7"/>
<g transform="translate(914.5 39.5) rotate(27.5)" class="w"><path d="M5.6 3.4 L1.0 9.8 L-4.6 6.4 L-5.6 -3.4 L-1.0 -9.8 L4.6 -6.4Z"/><path d="M5.6 3.4 L1.0 9.8 L7.0 9.8 L11.6 3.4 Z"/><path d="M1.0 9.8 L-4.6 6.4 L1.4 6.4 L7.0 9.8 Z"/><path d="M-4.6 6.4 L-5.6 -3.4 L0.4 -3.4 L1.4 6.4 Z"/><path d="M-5.6 -3.4 L-1.0 -9.8 L5.0 -9.8 L0.4 -3.4 Z"/><path d="M-1.0 -9.8 L4.6 -6.4 L10.6 -6.4 L5.0 -9.8 Z"/><path d="M4.6 -6.4 L5.6 3.4 L11.6 3.4 L10.6 -6.4 Z"/><path d="M11.6 3.4 L7.0 9.8 L1.4 6.4 L0.4 -3.4 L5.0 -9.8 L10.6 -6.4Z"/><ellipse cx="6.6" cy="0" rx="4.3" ry="7.2"/><path d="M6.8 -4.8 L35.0 -4.8 A2.2 4.8 0 0 1 35.0 4.8 L6.8 4.8 A2.2 4.8 0 0 1 6.8 -4.8 Z"/><ellipse cx="35.0" cy="0" rx="2.2" ry="4.8"/><path d="M29.6 -4.8 A2.2 4.8 0 0 0 29.6 4.8" fill="none"/><path d="M24.3 -4.8 A2.2 4.8 0 0 0 24.3 4.8" fill="none"/><path d="M18.9 -4.8 A2.2 4.8 0 0 0 18.9 4.8" fill="none"/></g><g transform="translate(961.6 64.4) rotate(20.0)" class="w"><ellipse cx="0" cy="0" rx="5.4" ry="8.6"/><ellipse cx="0" cy="0" rx="2.4" ry="4.4"/></g><g transform="translate(1051.4 622.2) rotate(20.0)" class="w"><ellipse cx="0" cy="0" rx="5.8" ry="8.6"/><ellipse cx="0" cy="0" rx="2.6" ry="4.6"/></g><g transform="translate(1093.9 647.1) rotate(208.4)" class="w"><path d="M4 -4.8 L33 -4.8 A2.2 4.8 0 0 1 33 4.8 L4 4.8Z"/><ellipse cx="33" cy="0" rx="2.2" ry="4.8"/><path d="M14.0 -4.8 A2.2 4.8 0 0 1 14.0 4.8" fill="none"/><path d="M19.5 -4.8 A2.2 4.8 0 0 1 19.5 4.8" fill="none"/><path d="M25.0 -4.8 A2.2 4.8 0 0 1 25.0 4.8" fill="none"/><path d="M5 -10.5 A4.5 10.5 0 0 1 5 10.5 Q-9 9 -9 0 Q-9 -9 5 -10.5Z"/><ellipse cx="5" cy="0" rx="4.5" ry="10.5"/></g>
<g class="t">
<path d="M449.4 805.2 L436.9 822 M439.1 810.3 L448.6 816.9"/>
<path d="M466.9 804.5 L456.7 814.7 M462.5 809.6 L462.5 822"/>
<path d="M474.9 808.9 L479.3 811.8 M486.6 809.6 Q485 816 482.2 818.4 L476.4 822"/>
<path d="M496.9 808.2 L493.9 822 M502.7 808.2 L506.4 822"/>
<path d="M514.4 809.6 L523.9 809.6"/>
<path d="M536.3 804.5 L536.3 807.4 M531.2 809.6 L542.2 809.6 L531.9 816.9 M537.1 813.3 L537.1 822 M539.3 814.7 L543.6 817.7"/>
<path d="M553.1 808.2 L563.4 808.2 L559 815.5 L552.4 822 M559 815.5 L563.4 822"/>
</g>
<g class="l">
<path d="M514.8 798.4 L562.2 717.3"/>
<path d="M562.2 717.3 L547.2 733.5 L553.5 738.5Z M562.2 717.3 L548.5 734.5 M562.2 717.3 L550 735.8 M562.2 717.3 L551.7 737 M550.5 730 L556 734.5 M553.5 726.5 L558 730"/>
</g>
<text transform="translate(424 846.9) scale(1 1.75)" x="0" y="0" style="font-family:'Liberation Mono',monospace;font-size:14px;letter-spacing:4.6px" fill="#000" stroke="#000" stroke-width="0.45" opacity="0.99" filter="url(#gs)">Main Harness</text>
<text transform="translate(1021.5 1150.8) scale(1 1.29)" x="0" y="0" style="font-family:'Liberation Mono',monospace;font-size:14px;letter-spacing:3.7px" fill="#000" stroke="#000" stroke-width="0.35" opacity="0.99" filter="url(#gs)">00064979</text>

</svg>
</body></html>
